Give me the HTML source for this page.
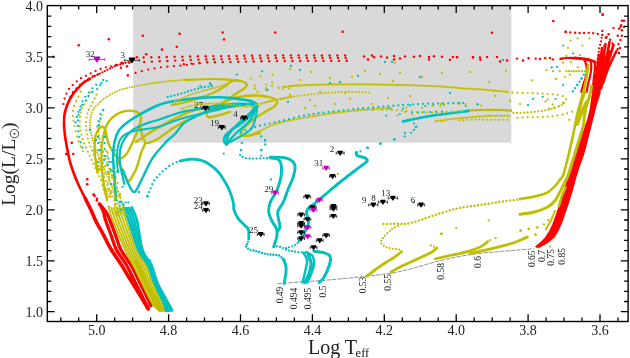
<!DOCTYPE html>
<html><head><meta charset="utf-8"><style>
html,body{margin:0;padding:0;background:#fff;width:630px;height:358px;overflow:hidden}
svg{display:block;font-family:"Liberation Serif",serif;will-change:transform}
</style></head><body>
<svg width="630" height="358" viewBox="0 0 630 358">
<rect x="133.2" y="5.6" width="378.1" height="137.1" fill="#d9d9d9"/>
<clipPath id="ax"><rect x="47.3" y="5.6" width="580.8000000000001" height="315.9"/></clipPath>
<g clip-path="url(#ax)" fill="none" stroke-linecap="round" stroke-linejoin="round">
<path d="M277.8 283.8 C281.5 283.5 291.3 282.7 300.0 282.0 C308.7 281.3 318.9 280.8 330.0 279.8 C341.1 278.8 355.0 277.6 366.7 276.2 C378.4 274.8 387.8 274.1 400.0 271.5 C412.2 268.9 428.1 263.6 440.0 260.7 C451.9 257.8 461.1 256.0 471.7 254.4 C482.3 252.8 493.2 252.1 503.5 251.2 C513.8 250.3 528.7 249.2 533.7 248.8" stroke="#808080" stroke-width="0.9" stroke-dasharray="3.5 2"/>
<path d="M535.0 246.5 L540.0 242.5 L544.5 238.0 L548.5 232.0 L552.0 225.0 L555.0 217.0 L558.0 208.0 L561.5 197.0 L565.0 186.0 L568.5 175.0 L572.0 164.0 L576.0 152.0 L580.0 140.0 L583.5 130.0 L587.0 120.0 L589.5 110.0 L591.0 100.0 L592.0 94.0 L601.0 92.0 L600.0 95.0 L596.5 106.0 L593.5 118.0 L590.5 130.0 L587.5 142.0 L584.0 155.0 L580.0 166.0 L576.5 177.0 L573.0 190.0 L569.0 203.0 L565.5 213.0 L562.5 222.0 L559.0 230.0 L555.0 237.0 L548.0 243.0 L540.0 247.5 L537.0 248.0Z" fill="#ff0000" stroke="none"/>
<path d="M89.7 78.8 C88.7 79.4 85.6 81.0 83.6 82.6 C81.6 84.2 79.6 86.3 77.6 88.6 C75.6 90.9 73.3 93.4 71.6 96.2 C69.8 99.0 68.3 102.2 67.1 105.2 C65.9 108.2 65.1 110.9 64.6 114.0 C64.1 117.1 64.0 120.7 64.0 124.0 C64.0 127.3 64.4 130.5 64.8 134.0 C65.2 137.5 65.6 140.3 66.5 145.0 C67.4 149.7 68.8 157.2 70.1 162.1 C71.4 167.0 72.6 170.2 74.1 174.2 C75.6 178.2 77.3 182.2 79.2 186.2 C81.1 190.2 83.2 194.3 85.2 198.3 C87.2 202.3 89.4 206.5 91.2 210.4 C93.0 214.3 94.3 218.1 96.3 222.0 C98.3 225.9 100.6 229.5 103.0 234.0 C105.4 238.5 107.8 243.8 110.9 249.0 C114.0 254.2 119.0 261.1 121.5 265.0 C124.0 268.9 123.8 268.8 126.0 272.5 C128.2 276.2 132.3 282.7 135.0 287.0 C137.7 291.3 139.8 294.8 142.0 298.5 C144.2 302.2 147.4 307.7 148.5 309.5" stroke="#ff0000" stroke-width="2.6"/>
<path d="M85.2 198.3 C86.2 200.3 89.4 206.5 91.2 210.4 C93.0 214.3 94.3 218.1 96.3 222.0 C98.3 225.9 100.6 229.5 103.0 234.0 C105.4 238.5 107.8 243.8 110.9 249.0 C114.0 254.2 119.0 261.1 121.5 265.0 C124.0 268.9 123.8 268.8 126.0 272.5 C128.2 276.2 132.3 282.7 135.0 287.0 C137.7 291.3 139.8 294.9 142.0 298.5 C144.2 302.1 147.0 306.8 148.0 308.5" stroke="#ff0000" stroke-width="3.6"/>
<path d="M99.5 204.0 C100.2 205.3 102.5 209.3 103.5 212.0 C104.5 214.7 104.2 216.2 105.5 220.0 C106.8 223.8 109.2 230.0 111.0 235.0 C112.8 240.0 113.9 245.0 116.5 250.0 C119.1 255.0 123.4 259.7 126.5 265.0 C129.6 270.3 132.0 276.0 135.0 282.0 C138.0 288.0 142.3 296.8 144.5 301.0 C146.7 305.2 147.4 306.0 148.0 307.0" stroke="#ff0000" stroke-width="3.3"/>
<path d="M99.5 204.0 C100.6 205.3 104.3 209.3 106.0 212.0 C107.7 214.7 108.2 216.2 109.8 220.0 C111.4 223.8 113.6 230.0 115.5 235.0 C117.4 240.0 118.4 245.0 121.0 250.0 C123.6 255.0 127.9 259.7 131.0 265.0 C134.1 270.3 136.6 276.2 139.5 282.0 C142.4 287.8 146.6 296.1 148.5 300.0 C150.4 303.9 150.6 304.6 151.0 305.5" stroke="#ff0000" stroke-width="3.3"/>
<path d="M599.0 55.0 C598.7 57.5 597.7 65.0 597.0 70.0 C596.3 75.0 595.8 80.0 595.0 85.0 C594.2 90.0 592.9 97.5 592.5 100.0" stroke="#ff0000" stroke-width="2.6"/>
<path d="M602.0 48.0 C601.7 50.8 600.8 59.3 600.0 65.0 C599.2 70.7 598.4 76.2 597.5 82.0 C596.6 87.8 595.0 97.0 594.5 100.0" stroke="#ff0000" stroke-width="2.6"/>
<path d="M605.5 44.0 C605.1 46.7 603.9 54.3 603.0 60.0 C602.1 65.7 601.1 72.0 600.0 78.0 C598.9 84.0 597.1 93.0 596.5 96.0" stroke="#ff0000" stroke-width="2.6"/>
<path d="M609.5 42.0 C609.0 44.7 607.6 52.5 606.5 58.0 C605.4 63.5 604.2 69.3 603.0 75.0 C601.8 80.7 599.7 89.2 599.0 92.0" stroke="#ff0000" stroke-width="2.6"/>
<path d="M613.5 45.0 C612.8 47.2 610.8 53.5 609.5 58.0 C608.2 62.5 606.9 67.0 605.5 72.0 C604.1 77.0 601.8 85.3 601.0 88.0" stroke="#ff0000" stroke-width="2.6"/>
<path d="M616.5 51.0 C615.8 52.5 613.5 56.8 612.0 60.0 C610.5 63.2 609.0 66.2 607.5 70.0 C606.0 73.8 603.8 80.8 603.0 83.0" stroke="#ff0000" stroke-width="2.6"/>
<path d="M603.0 56.0 C602.5 59.2 601.2 68.5 600.0 75.0 C598.8 81.5 596.7 91.7 596.0 95.0" stroke="#ff0000" stroke-width="5"/>
<path d="M609.0 52.0 C608.2 55.0 606.0 64.0 604.5 70.0 C603.0 76.0 600.8 85.0 600.0 88.0" stroke="#ff0000" stroke-width="4"/>
<path d="M560.3 58.8 C561.4 58.7 563.7 58.1 566.7 58.0 C569.7 57.9 575.5 57.9 578.4 58.2 C581.3 58.5 582.9 58.4 584.3 60.0 C585.7 61.6 586.3 65.4 586.7 67.6 C587.1 69.8 587.1 71.1 586.7 73.4 C586.3 75.8 585.1 79.2 584.3 81.7 C583.5 84.2 582.5 87.0 582.0 88.7 C581.5 90.4 581.5 91.5 581.4 92.0" stroke="#ff0000" stroke-width="2.2"/>
<path d="M570.0 58.0 C572.6 58.2 582.1 59.0 585.5 59.4 C588.9 59.8 589.2 59.4 590.2 60.6 C591.2 61.8 591.3 63.9 591.3 66.4 C591.3 68.9 590.8 72.7 590.2 75.8 C589.6 78.9 588.4 82.5 587.8 85.2 C587.2 87.9 586.9 90.9 586.7 92.0" stroke="#ff0000" stroke-width="2.2"/>
<path d="M580.0 58.5 C582.3 59.0 591.2 60.2 593.7 61.7 C596.2 63.2 594.9 64.7 594.9 67.6 C594.9 70.5 594.1 75.2 593.7 79.3 C593.3 83.4 592.7 89.9 592.5 92.0" stroke="#ff0000" stroke-width="2.2"/>
<path d="M575.0 57.5 C577.2 57.8 584.5 58.2 588.0 59.0 C591.5 59.8 594.7 61.5 596.0 62.0" stroke="#ff0000" stroke-width="1.8"/>
<path d="M109.0 208.0 C109.6 210.0 109.9 213.0 112.6 220.0 C115.3 227.0 121.8 242.5 125.2 250.0 C128.6 257.5 130.3 259.5 133.1 265.0 C135.9 270.5 139.1 277.0 142.0 283.0 C144.9 289.0 148.4 296.8 150.7 301.0 C153.0 305.2 154.5 306.3 156.0 308.0 C157.5 309.7 158.9 310.5 159.5 311.0" stroke="#bfbf00" stroke-width="1.8"/>
<path d="M111.5 208.0 C112.1 210.0 112.6 213.0 115.2 220.0 C117.9 227.0 124.0 242.5 127.4 250.0 C130.8 257.5 132.8 259.5 135.6 265.0 C138.4 270.5 141.2 277.0 144.1 283.0 C146.9 289.0 150.5 296.8 152.8 301.0 C155.0 305.2 156.3 306.3 157.6 308.0 C158.9 309.7 160.2 310.5 160.7 311.0" stroke="#bfbf00" stroke-width="1.8"/>
<path d="M114.0 208.0 C114.7 210.0 115.3 213.0 117.9 220.0 C120.5 227.0 126.3 242.5 129.6 250.0 C133.0 257.5 135.3 259.5 138.1 265.0 C140.8 270.5 143.4 277.0 146.2 283.0 C149.0 289.0 152.6 296.8 154.8 301.0 C157.0 305.2 158.0 306.3 159.2 308.0 C160.3 309.7 161.4 310.5 161.8 311.0" stroke="#bfbf00" stroke-width="1.8"/>
<path d="M116.5 208.0 C117.2 210.0 118.0 213.0 120.5 220.0 C123.1 227.0 128.5 242.5 131.8 250.0 C135.2 257.5 137.8 259.5 140.6 265.0 C143.3 270.5 145.5 277.0 148.2 283.0 C151.0 289.0 154.8 296.8 156.8 301.0 C158.9 305.2 159.7 306.3 160.8 308.0 C161.8 309.7 162.6 310.5 163.0 311.0" stroke="#bfbf00" stroke-width="1.8"/>
<path d="M119.0 208.0 C119.7 210.0 120.7 213.0 123.2 220.0 C125.7 227.0 130.8 242.5 134.1 250.0 C137.4 257.5 140.3 259.5 143.0 265.0 C145.7 270.5 147.7 277.0 150.3 283.0 C153.0 289.0 156.9 296.8 158.9 301.0 C160.9 305.2 161.5 306.3 162.3 308.0 C163.2 309.7 163.9 310.5 164.2 311.0" stroke="#bfbf00" stroke-width="1.8"/>
<path d="M121.5 208.0 C122.2 210.0 123.4 213.0 125.9 220.0 C128.3 227.0 133.0 242.5 136.3 250.0 C139.6 257.5 142.8 259.5 145.5 265.0 C148.2 270.5 149.8 277.0 152.4 283.0 C155.0 289.0 159.0 296.8 160.9 301.0 C162.9 305.2 163.2 306.3 163.9 308.0 C164.6 309.7 165.1 310.5 165.3 311.0" stroke="#bfbf00" stroke-width="1.8"/>
<path d="M124.0 208.0 C124.8 210.0 126.1 213.0 128.5 220.0 C130.9 227.0 135.2 242.5 138.5 250.0 C141.8 257.5 145.3 259.5 148.0 265.0 C150.7 270.5 152.0 277.0 154.5 283.0 C157.0 289.0 161.2 296.8 163.0 301.0 C164.8 305.2 164.9 306.3 165.5 308.0 C166.1 309.7 166.3 310.5 166.5 311.0" stroke="#bfbf00" stroke-width="1.8"/>
<path d="M136.0 262.0 C137.2 264.3 140.7 271.3 143.0 276.0 C145.3 280.7 147.8 285.8 150.0 290.0 C152.2 294.2 154.1 297.8 156.0 301.0 C157.9 304.2 160.6 308.1 161.5 309.5" stroke="#bfbf00" stroke-width="4"/>
<path d="M172.0 104.9 C173.9 104.5 178.7 103.8 183.4 102.6 C188.1 101.4 194.7 99.8 200.0 98.0 C205.3 96.2 210.8 94.0 215.0 92.0 C219.2 90.0 222.4 87.8 225.2 86.0 C228.0 84.2 229.5 81.8 232.0 81.0 C234.5 80.2 237.7 80.3 240.2 80.9 C242.7 81.5 246.5 83.3 247.0 84.7 C247.5 86.1 245.1 87.7 243.2 89.2 C241.3 90.7 237.9 92.3 235.7 93.8 C233.4 95.3 232.0 96.5 229.7 98.0 C227.4 99.5 224.3 101.6 222.0 103.0 C219.7 104.4 217.7 105.6 216.0 106.5 C214.3 107.4 213.4 107.8 212.0 108.5 C210.6 109.2 208.3 109.6 207.5 110.8 C206.7 112.0 206.6 114.3 206.9 115.4 C207.2 116.5 207.2 117.2 209.2 117.2 C211.1 117.2 215.1 116.3 218.6 115.4 C222.1 114.5 228.1 112.5 230.0 111.9" stroke="#bfbf00" stroke-width="2.4"/>
<path d="M186.0 79.8 C190.0 79.7 203.5 79.1 210.0 79.0 C216.5 78.9 220.2 79.1 225.2 79.4 C230.2 79.7 237.7 80.7 240.2 80.9" stroke="#bfbf00" stroke-width="2.2"/>
<path d="M205.7 110.8 C206.7 110.7 209.4 110.6 211.6 110.2 C213.8 109.8 215.5 109.0 218.6 108.4 C221.7 107.8 225.6 107.4 230.0 106.7 C234.4 106.0 242.5 104.9 245.0 104.5" stroke="#bfbf00" stroke-width="2.2"/>
<path d="M136.0 142.0 C137.8 140.8 143.4 136.8 147.0 134.5 C150.6 132.2 153.7 130.3 157.8 127.9 C161.9 125.5 167.4 122.4 171.7 120.1 C176.0 117.8 179.5 115.9 183.4 114.3 C187.3 112.7 191.7 111.2 195.2 110.2 C198.7 109.2 201.6 109.1 204.5 108.4 C207.4 107.7 209.9 107.0 212.8 106.1 C215.7 105.2 218.7 104.3 222.0 103.0 C225.3 101.7 228.8 99.7 232.6 98.5 C236.4 97.3 241.2 96.5 245.0 96.0 C248.8 95.5 251.0 95.3 255.2 95.5 C259.4 95.7 266.6 96.3 270.3 97.3 C274.0 98.3 276.4 100.1 277.1 101.6 C277.9 103.1 276.4 104.6 274.8 106.1 C273.2 107.6 270.6 108.6 267.3 110.6 C264.0 112.6 258.7 115.7 255.2 118.2 C251.7 120.7 248.6 123.3 246.2 125.7 C243.8 128.1 241.7 130.9 240.9 132.5 C240.2 134.1 240.3 135.0 241.7 135.5 C243.1 136.0 246.1 135.9 249.2 135.5 C252.2 135.1 258.2 133.4 260.0 133.0" stroke="#bfbf00" stroke-width="2.4"/>
<path d="M97.7 172.6 C97.2 169.8 95.4 161.5 94.9 155.9 C94.4 150.3 94.5 143.2 94.9 139.1 C95.3 134.9 96.3 133.1 97.5 131.0 C98.7 128.9 100.7 126.8 101.9 126.5 C103.2 126.2 104.3 127.8 105.0 129.0 C105.7 130.2 105.4 130.9 106.1 133.5 C106.8 136.1 107.3 141.0 108.9 144.7 C110.5 148.4 114.0 153.6 115.9 155.9 C117.8 158.2 118.2 159.2 120.1 158.7 C122.0 158.2 124.8 156.4 127.1 153.1 C129.4 149.8 131.9 143.8 134.0 139.1 C136.1 134.4 138.4 128.8 139.6 125.1 C140.8 121.4 141.2 118.9 141.0 116.8 C140.8 114.7 140.0 113.6 138.2 112.6 C136.3 111.6 132.9 110.6 129.9 110.6 C126.9 110.6 123.1 111.3 120.1 112.6 C117.1 113.9 114.0 115.9 111.7 118.2 C109.4 120.5 107.5 123.2 106.1 126.5 C104.6 129.8 103.8 134.1 103.0 138.0 C102.2 141.9 101.7 144.7 101.5 150.0 C101.3 155.3 101.5 164.2 101.9 170.0 C102.3 175.8 103.2 180.0 104.0 185.0 C104.8 190.0 106.5 197.5 107.0 200.0" stroke="#bfbf00" stroke-width="2.4"/>
<path d="M140.4 128.0 C140.8 129.6 142.0 134.9 142.8 137.4 C143.6 139.9 145.3 140.9 145.1 143.2 C144.9 145.5 142.8 148.1 141.6 151.4 C140.4 154.7 139.1 160.1 138.1 163.2 C137.1 166.3 136.6 167.9 135.7 170.0 C134.8 172.1 133.4 174.2 132.4 176.0 C131.4 177.8 130.4 180.2 129.4 180.7 C128.4 181.2 127.5 180.9 126.4 179.2 C125.3 177.4 124.0 173.2 122.6 170.2 C121.2 167.2 118.8 162.6 118.1 161.1" stroke="#bfbf00" stroke-width="2.4"/>
<path d="M145.1 143.2 C146.1 143.0 148.5 143.1 151.0 142.1 C153.5 141.1 156.6 139.6 160.0 137.4 C163.4 135.2 167.8 131.6 171.7 129.0 C175.6 126.4 179.5 124.1 183.4 122.0 C187.3 119.9 191.9 118.1 195.2 116.6 C198.5 115.1 200.9 113.9 203.4 113.0 C205.9 112.1 208.9 111.3 210.0 111.0" stroke="#bfbf00" stroke-width="2.4"/>
<path d="M97.0 170.0 L96.0 160.0" stroke="#bfbf00" stroke-width="2.2"/>
<path d="M466.0 110.5 C470.0 110.4 482.5 109.9 490.0 109.9 C497.5 109.9 507.5 110.3 511.0 110.4" stroke="#bfbf00" stroke-width="2.2"/>
<path d="M520.0 198.8 C522.2 198.5 528.9 197.8 533.4 196.8 C537.9 195.8 543.2 194.6 546.8 192.8 C550.4 191.0 552.7 188.3 554.9 186.1 C557.1 183.9 558.8 181.2 560.2 179.4 C561.6 177.6 562.3 177.4 563.3 175.0 C564.3 172.6 565.0 168.7 566.0 165.0 C567.0 161.3 568.0 157.2 569.0 153.0 C570.0 148.8 571.0 144.7 572.0 140.0 C573.0 135.3 574.2 129.6 575.1 125.0 C576.0 120.4 576.8 116.1 577.6 112.6 C578.4 109.1 579.3 106.8 580.1 103.8 C580.9 100.8 581.8 97.5 582.6 94.4 C583.4 91.3 584.3 88.2 585.0 85.0 C585.7 81.8 586.5 78.3 587.0 75.0 C587.5 71.7 587.8 66.7 588.0 65.0" stroke="#bfbf00" stroke-width="2.6"/>
<path d="M520.0 214.2 C522.2 213.9 528.9 213.3 533.4 212.2 C537.9 211.1 543.2 209.4 546.8 207.5 C550.4 205.6 552.7 203.5 554.9 200.8 C557.1 198.1 558.4 194.8 560.2 191.4 C562.0 188.1 564.3 183.4 565.6 180.7 C566.9 178.0 567.1 177.9 568.2 175.0 C569.3 172.1 570.7 167.2 572.0 163.0 C573.3 158.8 574.7 154.3 576.0 150.0 C577.3 145.7 578.8 141.2 580.0 137.0 C581.2 132.8 582.8 128.6 583.5 125.0 C584.2 121.4 583.9 118.7 584.5 115.2 C585.1 111.7 586.0 107.4 587.0 103.8 C588.0 100.2 589.5 96.8 590.2 93.8 C591.0 90.8 591.3 87.3 591.5 86.0" stroke="#bfbf00" stroke-width="3.0"/>
<path d="M577.0 124.0 C577.5 122.7 578.8 118.7 580.0 116.0 C581.2 113.3 582.8 110.3 584.0 108.0 C585.2 105.7 586.5 103.0 587.0 102.0" stroke="#bfbf00" stroke-width="4.0"/>
<path d="M576.3 122.7 C576.8 120.9 578.0 115.8 579.0 112.0 C580.0 108.2 581.0 103.3 582.0 100.0 C583.0 96.7 584.5 93.3 585.0 92.0" stroke="#bfbf00" stroke-width="3.0"/>
<path d="M558.9 206.2 C559.4 204.6 560.5 199.9 561.6 196.8 C562.7 193.7 564.9 189.0 565.6 187.4" stroke="#bfbf00" stroke-width="2.4"/>
<path d="M366.6 276.2 C368.0 275.2 371.9 272.2 375.0 270.0 C378.1 267.8 381.7 265.2 385.0 263.0 C388.3 260.8 391.9 258.9 394.7 257.0 C397.4 255.1 400.4 252.6 401.5 251.7" stroke="#bfbf00" stroke-width="2.8"/>
<path d="M391.0 272.0 C392.5 271.2 395.6 269.2 400.0 267.0 C404.4 264.8 413.4 260.8 417.3 259.0 C421.2 257.2 420.8 257.5 423.3 256.3 C425.8 255.1 430.1 253.1 432.4 251.7 C434.7 250.3 436.1 248.6 436.9 248.0" stroke="#bfbf00" stroke-width="2.8"/>
<path d="M435.0 259.0 C437.5 258.4 446.5 256.3 450.0 255.5 C453.5 254.7 452.3 255.2 455.9 254.4 C459.5 253.6 467.5 251.7 471.7 250.4 C475.9 249.1 478.6 247.9 481.3 246.4 C484.0 244.9 486.6 242.5 487.6 241.7" stroke="#bfbf00" stroke-width="2.8"/>
<path d="M470.2 253.6 C473.1 252.9 482.1 250.9 487.6 249.6 C493.2 248.3 499.0 246.8 503.5 245.6 C508.0 244.4 511.4 243.6 514.6 242.5 C517.8 241.4 520.4 240.2 522.5 239.3 C524.6 238.4 526.5 237.3 527.3 236.9" stroke="#bfbf00" stroke-width="2.8"/>
<path d="M124.0 208.0 C124.8 210.0 126.1 213.0 128.5 220.0 C130.9 227.0 135.2 242.5 138.5 250.0 C141.8 257.5 145.3 259.5 148.0 265.0 C150.7 270.5 152.0 277.0 154.5 283.0 C157.0 289.0 161.2 296.8 163.0 301.0 C164.8 305.2 164.9 306.3 165.5 308.0 C166.1 309.7 166.3 310.5 166.5 311.0" stroke="#00bfbf" stroke-width="2.6"/>
<path d="M126.7 208.0 C127.4 210.0 129.1 213.0 131.3 220.0 C133.5 227.0 136.9 242.5 139.8 250.0 C142.8 257.5 146.6 259.5 149.2 265.0 C151.8 270.5 153.0 277.0 155.5 283.0 C158.0 289.0 162.4 296.8 164.3 301.0 C166.3 305.2 166.7 306.4 167.3 308.0 C168.0 309.6 168.2 310.4 168.3 310.8" stroke="#00bfbf" stroke-width="2.6"/>
<path d="M129.3 208.0 C130.1 210.0 132.1 213.0 134.1 220.0 C136.1 227.0 138.5 242.5 141.2 250.0 C143.9 257.5 147.8 259.5 150.3 265.0 C152.9 270.5 153.9 277.0 156.5 283.0 C159.1 289.0 163.6 296.8 165.7 301.0 C167.8 305.2 168.4 306.4 169.2 308.0 C169.9 309.6 170.0 310.2 170.2 310.7" stroke="#00bfbf" stroke-width="2.6"/>
<path d="M132.0 208.0 C132.8 210.0 135.2 213.0 136.9 220.0 C138.7 227.0 140.1 242.5 142.5 250.0 C144.9 257.5 149.0 259.5 151.5 265.0 C154.0 270.5 154.9 277.0 157.5 283.0 C160.1 289.0 164.8 296.8 167.0 301.0 C169.2 305.2 170.2 306.4 171.0 308.0 C171.8 309.6 171.8 310.1 172.0 310.5" stroke="#00bfbf" stroke-width="2.6"/>
<path d="M115.9 200.0 C115.7 196.4 115.0 185.5 114.5 178.2 C114.0 170.8 113.1 161.9 113.1 155.9 C113.1 149.9 113.6 146.1 114.5 141.9 C115.4 137.7 116.6 133.9 118.7 130.7 C120.8 127.4 123.8 125.0 127.1 122.4 C130.3 119.9 134.4 117.6 138.2 115.4 C142.0 113.2 146.4 110.8 150.0 109.0 C153.6 107.2 156.4 105.8 160.0 104.5 C163.6 103.2 165.9 102.5 171.8 101.5 C177.7 100.5 189.3 98.9 195.2 98.2 C201.0 97.5 203.0 97.7 206.9 97.5 C210.8 97.3 214.8 97.2 218.6 97.3 C222.4 97.4 226.4 97.6 230.0 97.9 C233.6 98.2 236.5 98.7 240.2 99.3 C243.9 99.9 249.3 100.6 252.2 101.6 C255.1 102.6 257.0 103.9 257.5 105.3 C258.0 106.7 256.6 108.0 255.2 109.9 C253.8 111.8 251.7 114.2 249.2 116.6 C246.7 119.0 243.2 121.9 240.2 124.2 C237.2 126.5 233.6 128.2 231.1 130.2 C228.6 132.2 226.2 134.2 225.1 136.2 C224.0 138.2 224.0 140.6 224.3 142.0 C224.6 143.4 226.3 144.1 226.7 144.5" stroke="#00bfbf" stroke-width="2.6"/>
<path d="M124.3 183.8 C123.6 180.6 120.8 169.9 120.1 164.3 C119.4 158.7 119.4 154.5 120.1 150.3 C120.8 146.1 122.2 142.5 124.3 139.1 C126.4 135.7 129.2 132.5 132.6 130.0 C136.0 127.5 140.4 125.8 145.0 124.0 C149.6 122.2 154.2 121.2 160.0 119.3 C165.8 117.4 173.3 114.3 180.0 112.5 C186.7 110.7 193.3 110.0 200.0 108.7 C206.7 107.5 213.7 105.9 220.0 105.0 C226.3 104.1 233.0 103.6 238.0 103.5 C243.0 103.4 247.3 103.8 250.0 104.5 C252.7 105.2 254.0 106.1 254.0 107.5 C254.0 108.9 252.3 110.6 250.0 113.0 C247.7 115.4 243.2 119.0 240.0 122.0 C236.8 125.0 233.2 128.3 231.0 131.0 C228.8 133.7 227.7 135.8 227.0 138.0 C226.3 140.2 226.8 143.4 226.7 144.5" stroke="#00bfbf" stroke-width="2.2"/>
<path d="M118.0 172.0 C117.8 170.0 117.0 164.3 117.0 160.0 C117.0 155.7 117.2 149.8 118.0 146.0 C118.8 142.2 119.7 139.4 122.0 137.0 C124.3 134.6 128.0 132.8 132.0 131.5 C136.0 130.2 141.3 129.8 146.0 129.0 C150.7 128.2 154.3 128.2 160.0 126.5 C165.7 124.8 173.3 121.1 180.0 119.0 C186.7 116.9 194.2 115.4 200.0 114.0 C205.8 112.6 210.0 111.7 215.0 110.5 C220.0 109.3 225.5 107.8 230.0 107.0 C234.5 106.2 238.5 106.1 242.0 105.5 C245.5 104.9 248.8 103.2 251.0 103.5 C253.2 103.8 255.3 105.7 255.5 107.0 C255.7 108.3 253.9 109.4 252.0 111.5 C250.1 113.6 247.0 116.8 244.0 119.5 C241.0 122.2 236.7 125.2 234.0 128.0 C231.3 130.8 229.2 133.2 228.0 136.0 C226.8 138.8 226.9 143.1 226.7 144.5" stroke="#00bfbf" stroke-width="2.0"/>
<path d="M127.1 181.0 C128.2 182.9 131.7 192.2 134.0 192.2 C136.3 192.2 138.0 186.6 141.0 181.0 C144.0 175.4 148.0 165.2 152.2 158.7 C156.4 152.2 162.4 146.0 166.2 141.9 C170.0 137.8 172.1 137.0 175.0 134.0 C177.9 131.0 180.0 126.6 183.4 123.7 C186.8 120.8 191.9 118.4 195.2 116.6 C198.5 114.8 200.9 114.3 203.4 113.1 C205.9 111.9 207.9 110.6 210.4 109.6 C212.9 108.6 215.3 108.0 218.6 107.2 C221.9 106.4 225.6 105.4 230.0 104.9 C234.4 104.5 242.5 104.6 245.0 104.5" stroke="#00bfbf" stroke-width="2.4"/>
<path d="M122.9 169.9 L127.1 181.0" stroke="#00bfbf" stroke-width="2.2"/>
<path d="M226.2 144.0 C227.8 142.2 232.9 136.4 236.0 133.3 C239.1 130.2 242.5 127.8 245.0 125.4 C247.5 123.0 249.2 121.5 251.0 119.0 C252.8 116.5 254.5 112.7 255.5 110.5 C256.5 108.3 256.8 106.8 257.0 106.0" stroke="#00bfbf" stroke-width="2.2"/>
<path d="M226.2 144.0 C228.3 142.9 234.9 139.6 239.0 137.2 C243.1 134.8 248.2 132.3 250.9 129.4 C253.6 126.5 254.0 123.2 255.0 120.0 C256.0 116.8 256.7 111.7 257.0 110.0" stroke="#00bfbf" stroke-width="2.0"/>
<path d="M180.0 161.1 C181.5 160.8 186.0 159.6 189.0 159.3 C192.0 159.1 195.3 159.2 198.1 159.6 C200.9 160.0 203.1 160.7 205.6 161.9 C208.1 163.2 210.9 165.2 213.2 167.1 C215.5 169.0 217.2 170.7 219.2 173.2 C221.2 175.7 223.5 179.3 225.2 182.2 C226.9 185.1 228.2 187.3 229.5 190.7 C230.8 194.1 232.6 199.3 233.3 202.5 C234.1 205.7 233.1 207.3 234.0 210.1 C234.9 212.9 236.8 216.6 238.6 219.1 C240.4 221.6 243.0 223.4 244.6 225.2 C246.2 227.0 247.7 227.4 248.4 229.7 C249.1 231.9 248.7 237.2 248.8 238.7" stroke="#00bfbf" stroke-width="2.8"/>
<path d="M283.3 259.0 C283.7 260.1 285.5 263.6 285.9 265.9 C286.3 268.2 286.2 270.0 285.9 272.9 C285.6 275.8 284.4 281.6 284.1 283.4" stroke="#00bfbf" stroke-width="2.9"/>
<path d="M270.2 157.8 C271.5 158.1 276.0 158.4 277.8 159.3 C279.6 160.2 280.2 161.0 280.8 163.1 C281.4 165.2 281.6 169.1 281.5 172.1 C281.4 175.1 280.8 178.2 280.0 181.2 C279.2 184.2 278.1 187.6 277.0 190.2 C275.9 192.8 274.3 194.9 273.2 197.0 C272.1 199.1 270.9 200.1 270.2 202.5 C269.4 204.9 268.4 208.6 268.7 211.6 C268.9 214.6 270.4 217.8 271.7 220.6 C273.0 223.4 275.4 225.7 276.3 228.2 C277.2 230.7 277.2 233.2 277.0 235.7 C276.8 238.2 275.4 241.4 274.8 243.2 C274.2 245.0 273.9 246.1 273.7 246.7" stroke="#00bfbf" stroke-width="2.9"/>
<path d="M270.2 157.1 C272.7 157.2 281.5 157.1 285.3 157.8 C289.1 158.6 291.2 160.0 292.8 161.6 C294.4 163.2 295.1 164.8 295.1 167.6 C295.1 170.4 293.9 174.7 292.8 178.2 C291.7 181.7 289.7 185.2 288.3 188.7 C286.9 192.2 285.6 196.4 284.6 199.0 C283.6 201.6 283.4 201.9 282.3 204.0 C281.2 206.1 278.4 209.1 277.8 211.6 C277.2 214.1 278.1 216.6 278.5 219.1 C278.9 221.6 280.1 224.7 280.0 226.7 C279.9 228.7 278.2 230.4 277.8 231.2" stroke="#00bfbf" stroke-width="2.9"/>
<path d="M308.6 255.5 C309.0 256.9 311.1 261.3 311.2 264.2 C311.3 267.1 310.4 269.8 309.4 272.9 C308.4 275.9 305.8 280.9 305.1 282.5" stroke="#00bfbf" stroke-width="3.4"/>
<path d="M303.3 252.8 C303.9 254.0 306.6 257.1 307.0 260.0 C307.4 262.9 306.2 266.2 305.5 270.0 C304.8 273.8 303.0 280.4 302.5 282.5" stroke="#00bfbf" stroke-width="2.4"/>
<path d="M306.0 252.0 C307.1 252.7 311.2 254.0 312.5 256.0 C313.8 258.0 314.2 261.2 314.0 264.0 C313.8 266.8 312.6 269.9 311.5 273.0 C310.4 276.1 308.2 280.9 307.5 282.5" stroke="#00bfbf" stroke-width="2.4"/>
<path d="M313.8 251.1 C315.6 251.4 321.7 252.1 324.3 252.8 C326.9 253.5 328.5 254.2 329.5 255.5 C330.5 256.8 330.7 258.4 330.4 260.7 C330.1 263.0 329.0 266.5 327.8 269.4 C326.6 272.3 324.8 276.0 323.4 278.2 C321.9 280.4 319.8 281.8 319.1 282.5" stroke="#00bfbf" stroke-width="2.9"/>
<path d="M299.1 241.1 C299.8 240.1 301.9 237.1 303.1 235.1 C304.3 233.1 305.2 231.1 306.1 229.1 C307.0 227.1 308.2 224.7 308.6 223.0 C309.0 221.3 308.6 220.8 308.2 219.0 C307.8 217.2 306.3 213.8 306.4 212.0 C306.5 210.2 307.2 209.5 308.8 207.9 C310.4 206.3 313.5 204.5 315.8 202.6 C318.1 200.7 320.4 198.7 322.8 196.7 C325.2 194.7 327.1 192.9 330.0 190.5 C332.9 188.1 336.0 185.3 340.2 182.0 C344.4 178.7 351.2 173.6 355.2 170.5 C359.2 167.4 362.3 165.2 364.3 163.6 C366.3 161.9 367.3 161.6 367.3 160.6 C367.3 159.6 365.8 158.3 364.3 157.6 C362.8 156.8 359.6 156.7 358.2 156.1 C356.8 155.5 356.2 154.4 356.0 153.8 C355.8 153.2 356.6 152.6 356.7 152.3" stroke="#00bfbf" stroke-width="2.9"/>
<path d="M402.9 121.4 C407.4 120.5 419.1 117.8 430.0 116.0 C440.9 114.2 462.2 111.8 468.6 110.9" stroke="#00bfbf" stroke-width="2.6"/>
<path d="M131.0 61.3 C129.6 61.7 125.4 63.0 122.8 63.8 C120.2 64.6 117.8 65.0 115.3 66.0 C112.8 67.0 110.1 68.5 107.8 69.6 C105.5 70.7 103.7 71.6 101.7 72.6 C99.7 73.6 97.7 74.6 95.7 75.6 C93.7 76.6 90.7 78.3 89.7 78.8" stroke="#ff0000" stroke-width="2.3" stroke-dasharray="0 2.8"/>
<path d="M121.3 63.0 C119.9 63.5 115.2 65.4 113.0 66.0 C110.8 66.6 109.7 66.4 107.8 66.8 C105.9 67.2 103.7 67.9 101.7 68.6 C99.7 69.3 97.7 70.0 95.7 70.9 C93.7 71.8 91.6 73.0 89.7 73.9 C87.8 74.9 86.2 75.7 84.4 76.6 C82.6 77.5 80.7 78.2 79.1 79.3 C77.5 80.4 76.1 82.0 74.6 83.4 C73.1 84.8 71.3 86.1 70.1 87.6 C68.8 89.1 68.0 90.7 67.1 92.4 C66.2 94.1 65.4 95.6 64.8 97.7 C64.2 99.8 63.5 104.0 63.3 105.2" stroke="#ff0000" stroke-width="2.3" stroke-dasharray="0 5.4"/>
<path d="M98.0 74.3 C97.0 74.7 93.7 75.7 91.9 76.6 C90.1 77.5 88.9 78.6 87.4 79.6 C85.9 80.6 84.4 81.5 82.9 82.6 C81.4 83.7 79.7 85.3 78.4 86.4 C77.2 87.5 76.5 88.2 75.4 89.4 C74.3 90.7 72.6 92.3 71.6 93.9 C70.6 95.5 69.7 98.3 69.3 99.2" stroke="#ff0000" stroke-width="2.3" stroke-dasharray="0 5.2"/>
<path d="M135.6 72.9 C137.7 72.4 143.8 70.5 148.0 69.6 C152.2 68.7 156.8 67.9 161.0 67.3 C165.2 66.7 169.0 66.6 173.3 66.2 C177.6 65.8 182.2 65.4 186.7 64.9 C191.1 64.4 196.8 63.6 200.0 63.3 C203.2 62.9 205.0 62.9 206.0 62.8" stroke="#ff0000" stroke-width="2.3" stroke-dasharray="0 6.5"/>
<path d="M565.7 32.0 C567.6 32.1 574.0 32.8 577.1 32.9 C580.2 33.0 582.1 32.9 584.3 32.9 C586.4 32.9 588.1 32.8 590.0 32.9 C591.9 33.0 593.7 33.1 595.7 33.5 C597.8 33.9 600.3 34.3 602.3 35.0 C604.3 35.7 606.4 36.8 607.9 37.8 C609.4 38.8 610.5 40.0 611.4 41.3 C612.3 42.6 613.1 44.8 613.5 45.5" stroke="#ff0000" stroke-width="2.4" stroke-dasharray="0 4.6"/>
<path d="M601.6 37.8 C601.5 38.5 601.3 40.6 601.0 42.0 C600.7 43.4 600.0 44.8 599.6 46.2 C599.2 47.6 599.1 48.9 598.9 50.4 C598.7 51.9 598.4 53.8 598.2 55.3 C598.0 56.8 597.6 58.8 597.5 59.5" stroke="#ff0000" stroke-width="2.2" stroke-dasharray="0 3.6"/>
<path d="M80.6 91.7 C80.1 92.8 78.6 96.3 77.6 98.4 C76.6 100.5 75.3 102.5 74.6 104.5 C73.8 106.5 73.4 108.2 73.1 110.5 C72.8 112.8 72.7 115.1 73.0 118.0 C73.3 120.9 74.2 124.3 75.0 128.0 C75.8 131.7 76.7 136.0 78.0 140.0 C79.3 144.0 82.2 150.0 83.0 152.0" stroke="#bfbf00" stroke-width="2.2" stroke-dasharray="0 5.2"/>
<path d="M90.4 92.4 C89.8 93.7 87.8 97.9 86.7 100.0 C85.6 102.1 84.5 103.6 83.6 105.2 C82.7 106.8 82.0 107.7 81.4 109.8 C80.8 111.9 80.2 115.0 80.0 118.0 C79.8 121.0 79.5 124.3 80.0 128.0 C80.5 131.7 81.7 136.0 83.0 140.0 C84.3 144.0 86.2 147.8 88.0 152.0 C89.8 156.2 92.0 160.7 94.0 165.0 C96.0 169.3 98.0 173.8 100.0 178.0 C102.0 182.2 105.0 188.0 106.0 190.0" stroke="#bfbf00" stroke-width="2.2" stroke-dasharray="0 4.5"/>
<path d="M96.5 94.7 C95.8 96.2 93.4 100.8 92.0 103.7 C90.6 106.6 89.0 109.0 88.0 112.0 C87.0 115.0 86.2 118.2 86.0 122.0 C85.8 125.8 86.2 130.7 87.0 135.0 C87.8 139.3 89.3 143.5 91.0 148.0 C92.7 152.5 95.0 157.5 97.0 162.0 C99.0 166.5 101.0 170.7 103.0 175.0 C105.0 179.3 107.2 183.8 109.0 188.0 C110.8 192.2 112.3 196.0 114.0 200.0 C115.7 204.0 118.2 210.0 119.0 212.0" stroke="#bfbf00" stroke-width="2.2" stroke-dasharray="0 4.2"/>
<path d="M150.0 83.5 C147.3 84.0 138.6 85.7 133.6 86.8 C128.6 87.9 124.5 88.3 120.0 90.0 C115.5 91.7 110.3 94.6 106.8 96.8 C103.3 99.0 101.2 101.0 99.0 103.0 C96.8 105.0 94.7 106.8 93.4 109.0 C92.1 111.2 91.6 113.3 91.0 116.0 C90.4 118.7 89.9 121.8 90.0 125.0 C90.1 128.2 90.7 131.3 91.5 135.0 C92.3 138.7 93.6 142.8 95.0 147.0 C96.4 151.2 98.2 155.7 100.0 160.0 C101.8 164.3 104.0 168.5 106.0 173.0 C108.0 177.5 110.2 182.5 112.0 187.0 C113.8 191.5 115.3 195.8 117.0 200.0 C118.7 204.2 121.2 210.0 122.0 212.0" stroke="#bfbf00" stroke-width="2.0" stroke-dasharray="0 2.6"/>
<path d="M102.0 115.0 C101.5 116.7 99.5 121.3 99.0 125.0 C98.5 128.7 98.5 132.8 99.0 137.0 C99.5 141.2 100.7 145.7 102.0 150.0 C103.3 154.3 105.3 158.7 107.0 163.0 C108.7 167.3 110.3 171.7 112.0 176.0 C113.7 180.3 115.3 184.7 117.0 189.0 C118.7 193.3 120.5 197.7 122.0 202.0 C123.5 206.3 125.3 212.8 126.0 215.0" stroke="#bfbf00" stroke-width="2.2" stroke-dasharray="0 3.5"/>
<path d="M150.0 83.5 C152.5 83.2 160.8 82.1 165.0 81.6 C169.2 81.1 171.8 80.9 175.3 80.6 C178.8 80.3 184.2 79.9 186.0 79.8" stroke="#bfbf00" stroke-width="2.1" stroke-dasharray="0 2.3"/>
<path d="M258.0 104.5 C260.1 103.9 267.0 102.0 270.8 101.1 C274.6 100.2 276.5 100.0 281.0 99.2 C285.5 98.4 291.5 97.0 298.0 96.0 C304.5 95.0 312.2 94.2 320.0 93.5 C327.8 92.8 336.7 92.2 345.0 92.0 C353.3 91.8 365.8 92.4 370.0 92.5" stroke="#bfbf00" stroke-width="2.2" stroke-dasharray="0 3.4"/>
<path d="M283.0 87.0 C285.8 86.8 290.5 86.0 300.0 85.5 C309.5 85.0 323.3 84.4 340.0 84.3 C356.7 84.2 383.3 84.6 400.0 85.0 C416.7 85.4 429.1 85.9 440.0 86.5 C450.9 87.1 458.2 88.0 465.7 88.6 C473.2 89.1 478.0 89.2 485.0 89.8 C492.0 90.3 503.9 91.6 507.7 91.9" stroke="#bfbf00" stroke-width="2.2" stroke-dasharray="0 2.0"/>
<path d="M507.7 91.9 C508.9 92.0 511.4 92.4 515.2 92.6 C519.0 92.8 525.3 92.9 530.3 93.1 C535.3 93.3 540.4 93.4 545.4 93.8 C550.4 94.2 556.6 94.4 560.0 95.3 C563.4 96.2 565.5 97.7 566.0 99.0 C566.5 100.3 564.3 101.8 563.0 103.0 C561.7 104.2 560.5 105.5 558.4 106.4 C556.3 107.3 552.6 107.9 550.4 108.4 C548.2 109.0 545.9 109.5 545.0 109.7" stroke="#bfbf00" stroke-width="2.2" stroke-dasharray="0 5"/>
<path d="M249.0 135.5 C250.8 134.8 255.3 133.0 260.0 131.0 C264.7 129.0 269.4 125.8 277.0 123.5 C284.6 121.2 296.1 119.2 305.7 117.5 C315.2 115.8 324.8 114.2 334.3 113.0 C343.8 111.8 353.4 110.8 362.9 110.0 C372.4 109.2 386.6 108.3 391.4 108.0" stroke="#bfbf00" stroke-width="2.2" stroke-dasharray="0 2.3"/>
<path d="M175.2 101.6 C177.7 100.5 185.3 96.7 190.3 94.8 C195.3 92.9 201.4 91.4 205.4 90.3 C209.4 89.2 210.6 89.1 214.4 88.0 C218.2 86.9 225.9 84.2 228.2 83.5" stroke="#bfbf00" stroke-width="2.2" stroke-dasharray="0 2.8"/>
<path d="M181.3 109.1 C182.8 108.6 186.3 107.0 190.3 106.1 C194.3 105.2 199.6 104.1 205.4 103.8 C211.2 103.5 217.9 103.5 225.0 104.0 C232.1 104.5 241.4 107.0 247.7 106.8 C254.0 106.6 257.8 104.3 262.8 103.1 C267.8 101.8 272.8 100.4 277.8 99.3 C282.8 98.2 290.4 96.8 292.9 96.3" stroke="#bfbf00" stroke-width="2.2" stroke-dasharray="0 2.8"/>
<path d="M382.0 109.6 C385.0 109.8 393.2 110.0 400.0 110.5 C406.8 111.0 415.5 112.2 423.0 112.5 C430.5 112.8 437.8 112.3 445.0 112.0 C452.2 111.7 462.5 111.0 466.0 110.8" stroke="#bfbf00" stroke-width="2.2" stroke-dasharray="0 5"/>
<path d="M435.6 121.2 C438.8 120.8 447.2 119.6 454.6 118.8 C462.0 118.0 473.3 116.9 480.0 116.4 C486.7 115.9 489.8 115.9 495.0 115.8 C500.2 115.7 508.3 115.9 511.0 115.9" stroke="#bfbf00" stroke-width="2.2" stroke-dasharray="0 2.3"/>
<path d="M459.4 120.4 C462.0 120.3 470.1 119.7 475.2 119.6 C480.3 119.5 484.5 119.8 490.0 119.8 C495.5 119.8 505.0 119.8 508.0 119.8" stroke="#bfbf00" stroke-width="2.2" stroke-dasharray="0 4"/>
<path d="M511.0 111.0 C511.6 111.3 510.6 112.8 514.4 113.0 C518.1 113.2 527.7 112.5 533.5 111.9 C539.3 111.3 544.6 110.7 549.4 109.5 C554.1 108.3 559.3 106.4 562.0 104.8 C564.7 103.2 564.9 100.8 565.5 100.0" stroke="#bfbf00" stroke-width="2.2" stroke-dasharray="0 3.5"/>
<path d="M517.6 117.8 C519.5 117.7 525.1 117.2 528.7 117.1 C532.3 117.0 535.8 117.1 539.0 117.0 C542.2 116.9 545.3 116.9 547.8 116.7 C550.3 116.5 551.5 116.2 554.0 115.9 C556.5 115.6 560.8 115.0 562.9 114.6 C565.0 114.2 564.6 114.2 566.8 113.5 C568.9 112.8 574.3 110.9 575.8 110.4" stroke="#bfbf00" stroke-width="2.2" stroke-dasharray="0 5"/>
<path d="M566.4 71.2 C567.8 71.2 571.9 71.2 575.0 71.2 C578.1 71.2 583.5 71.2 585.2 71.2" stroke="#bfbf00" stroke-width="2.2" stroke-dasharray="0 2.6"/>
<path d="M383.4 223.9 C386.0 223.9 395.3 223.8 399.2 223.8 C403.1 223.8 403.2 224.4 406.7 223.8 C410.2 223.2 415.5 221.6 420.3 220.1 C425.1 218.6 430.4 216.4 435.4 214.8 C440.3 213.2 445.9 211.5 450.0 210.3 C454.1 209.2 455.9 208.7 460.1 207.9 C464.3 207.1 470.2 206.3 475.2 205.6 C480.2 204.8 485.2 204.2 490.2 203.4 C495.2 202.7 500.3 201.8 505.3 201.1 C510.3 200.4 515.7 200.0 520.4 199.3 C525.1 198.6 529.0 197.9 533.4 196.8 C537.8 195.7 544.6 193.5 546.8 192.8" stroke="#bfbf00" stroke-width="2.4" stroke-dasharray="0 3.6"/>
<path d="M401.5 251.7 C401.1 251.3 400.7 250.0 399.2 249.5 C397.7 249.0 394.5 249.1 392.4 248.7 C390.3 248.3 388.1 247.9 386.4 247.2 C384.6 246.4 382.8 245.2 381.9 244.2 C381.0 243.2 380.7 242.4 381.1 241.2 C381.5 239.9 382.3 238.7 384.1 236.7 C385.9 234.7 389.4 230.9 391.7 229.1 C394.0 227.3 396.4 227.0 397.7 226.1 C398.9 225.2 398.9 224.2 399.2 223.8" stroke="#bfbf00" stroke-width="2.2" stroke-dasharray="0 3.2"/>
<path d="M436.9 248.0 L429.4 244.5" stroke="#bfbf00" stroke-width="2.2" stroke-dasharray="0 3.2"/>
<path d="M546.0 229.0 C546.5 228.2 548.0 225.8 549.0 224.0 C550.0 222.2 551.0 220.2 552.0 218.0 C553.0 215.8 554.5 212.2 555.0 211.0" stroke="#bfbf00" stroke-width="2.4" stroke-dasharray="0 2.0"/>
<path d="M103.2 80.0 C102.5 81.2 100.2 85.4 99.0 87.1 C97.8 88.8 96.9 89.3 95.7 90.2 C94.5 91.1 93.1 91.5 91.9 92.4 C90.7 93.4 89.5 94.6 88.5 95.9 C87.5 97.2 87.0 98.9 85.9 100.4 C84.8 102.0 83.1 103.6 82.1 105.2 C81.1 106.8 80.7 107.9 80.0 110.0 C79.3 112.1 78.3 115.0 78.0 118.0 C77.7 121.0 77.7 124.3 78.0 128.0 C78.3 131.7 79.0 136.0 80.0 140.0 C81.0 144.0 83.3 150.0 84.0 152.0" stroke="#00bfbf" stroke-width="2.3" stroke-dasharray="0 5.5"/>
<path d="M106.7 81.1 C104.9 81.7 98.0 83.8 95.7 84.9 C93.4 86.0 93.7 86.8 92.7 87.9 C91.7 89.0 90.8 90.3 89.7 91.7 C88.6 93.1 87.0 94.7 85.9 96.2 C84.8 97.7 83.9 98.7 82.9 100.7 C81.9 102.7 80.9 105.7 79.9 108.2 C78.9 110.8 77.8 113.2 77.0 116.0 C76.2 118.8 75.3 123.5 75.0 125.0" stroke="#00bfbf" stroke-width="2.3" stroke-dasharray="0 5.5"/>
<path d="M167.7 97.0 C169.7 96.5 175.5 95.2 179.8 94.0 C184.1 92.8 189.1 91.0 193.3 89.8 C197.5 88.6 201.4 87.6 205.0 87.0 C208.6 86.4 213.3 86.2 215.0 86.0" stroke="#00bfbf" stroke-width="2.3" stroke-dasharray="0 3.5"/>
<path d="M147.6 196.0 C148.5 193.8 151.2 186.2 152.8 183.0 C154.4 179.8 155.6 178.9 157.3 176.9 C159.1 174.9 161.0 172.9 163.3 170.9 C165.6 168.9 168.1 166.5 170.9 164.9 C173.7 163.3 176.7 162.1 179.9 161.1 C183.1 160.1 188.3 159.2 190.0 158.8" stroke="#00bfbf" stroke-width="2.3" stroke-dasharray="0 4.2"/>
<path d="M248.8 238.7 C248.6 239.4 248.1 242.0 247.6 243.2 C247.1 244.4 245.4 244.9 245.7 245.9 C246.0 246.9 247.4 248.4 249.2 249.3 C250.9 250.2 253.6 250.4 256.2 251.1 C258.8 251.8 262.3 253.1 264.9 253.7 C267.5 254.3 269.6 254.3 271.9 254.6 C274.2 254.9 277.0 254.8 278.9 255.5 C280.8 256.2 282.6 258.4 283.3 259.0" stroke="#00bfbf" stroke-width="2.4" stroke-dasharray="0 2.9"/>
<path d="M240.1 154.8 C240.8 155.3 242.1 157.2 244.6 157.8 C247.1 158.4 250.9 158.6 255.2 158.6 C259.5 158.6 267.7 157.9 270.2 157.8" stroke="#00bfbf" stroke-width="2.3" stroke-dasharray="0 3.5"/>
<path d="M273.7 246.7 C274.7 246.7 277.5 246.1 279.8 246.7 C282.1 247.3 285.1 249.4 287.6 250.2 C290.1 251.0 292.0 251.2 294.6 251.6 C297.2 252.0 301.0 252.2 303.3 252.8 C305.6 253.5 307.7 255.1 308.6 255.5" stroke="#00bfbf" stroke-width="2.3" stroke-dasharray="0 3.2"/>
<path d="M286.0 248.2 C287.5 247.7 292.8 246.4 295.0 245.2 C297.2 244.0 298.4 241.8 299.1 241.1" stroke="#00bfbf" stroke-width="2.3" stroke-dasharray="0 3.2"/>
<path d="M583.9 74.8 C582.9 76.3 580.0 81.0 578.0 84.0 C576.0 87.0 572.8 91.4 571.8 92.9" stroke="#00bfbf" stroke-width="2.3" stroke-dasharray="0 4"/>
<path d="M241.1 132.3 C243.4 131.4 250.2 128.5 255.0 127.0 C259.8 125.5 264.9 124.7 270.0 123.5 C275.1 122.3 279.4 121.4 285.4 120.0 C291.3 118.6 299.9 116.4 305.7 115.2 C311.5 114.0 313.8 113.8 320.0 113.0 C326.2 112.2 336.2 111.2 342.9 110.5 C349.6 109.8 352.1 109.2 360.0 108.5 C367.9 107.8 380.0 106.8 390.0 106.0 C400.0 105.2 407.0 104.5 420.0 104.0 C433.0 103.5 460.0 103.2 468.0 103.0" stroke="#00bfbf" stroke-width="2.3" stroke-dasharray="0 5.0"/>
</g>
<g fill="#ff0000"><circle cx="116.5" cy="65.1" r="1.25"/><circle cx="121.0" cy="67.8" r="1.25"/><circle cx="122.5" cy="62.8" r="1.25"/><circle cx="127.0" cy="66.3" r="1.25"/><circle cx="129.3" cy="62.8" r="1.25"/></g>
<g fill="#ff0000"><circle cx="143.6" cy="57.5" r="1.20"/><circle cx="144.2" cy="62.0" r="1.20"/><circle cx="151.3" cy="57.3" r="1.20"/><circle cx="151.9" cy="61.6" r="1.20"/><circle cx="159.1" cy="57.2" r="1.20"/><circle cx="159.7" cy="61.3" r="1.20"/><circle cx="166.8" cy="57.0" r="1.20"/><circle cx="167.4" cy="61.0" r="1.20"/><circle cx="174.6" cy="56.8" r="1.20"/><circle cx="175.2" cy="60.6" r="1.20"/><circle cx="182.3" cy="56.7" r="1.20"/><circle cx="182.9" cy="60.3" r="1.20"/><circle cx="183.9" cy="64.3" r="1.20"/><circle cx="190.1" cy="56.5" r="1.20"/><circle cx="190.7" cy="59.9" r="1.20"/><circle cx="191.7" cy="63.6" r="1.20"/><circle cx="197.8" cy="56.3" r="1.20"/><circle cx="198.4" cy="59.6" r="1.20"/><circle cx="199.4" cy="62.9" r="1.20"/><circle cx="205.6" cy="56.2" r="1.20"/><circle cx="206.2" cy="59.4" r="1.20"/><circle cx="207.2" cy="62.3" r="1.20"/><circle cx="213.3" cy="56.1" r="1.20"/><circle cx="213.9" cy="59.2" r="1.20"/><circle cx="214.9" cy="62.2" r="1.20"/><circle cx="221.1" cy="56.1" r="1.20"/><circle cx="221.7" cy="59.1" r="1.20"/><circle cx="222.7" cy="62.0" r="1.20"/><circle cx="228.8" cy="56.0" r="1.20"/><circle cx="229.4" cy="58.9" r="1.20"/><circle cx="230.4" cy="61.9" r="1.20"/><circle cx="236.6" cy="55.9" r="1.20"/><circle cx="237.2" cy="58.8" r="1.20"/><circle cx="238.2" cy="61.8" r="1.20"/><circle cx="244.3" cy="55.8" r="1.20"/><circle cx="244.9" cy="58.6" r="1.20"/><circle cx="245.9" cy="61.6" r="1.20"/><circle cx="252.1" cy="55.7" r="1.20"/><circle cx="252.7" cy="58.5" r="1.20"/><circle cx="253.7" cy="61.5" r="1.20"/><circle cx="259.9" cy="55.6" r="1.20"/><circle cx="260.5" cy="58.3" r="1.20"/><circle cx="261.5" cy="61.3" r="1.20"/><circle cx="267.6" cy="55.5" r="1.20"/><circle cx="268.2" cy="58.1" r="1.20"/><circle cx="269.2" cy="61.2" r="1.20"/><circle cx="275.4" cy="55.5" r="1.20"/><circle cx="276.0" cy="58.0" r="1.20"/><circle cx="277.0" cy="61.1" r="1.20"/><circle cx="283.1" cy="55.4" r="1.20"/><circle cx="283.7" cy="57.9" r="1.20"/><circle cx="284.7" cy="61.0" r="1.20"/><circle cx="290.9" cy="55.4" r="1.20"/><circle cx="291.5" cy="57.9" r="1.20"/><circle cx="292.5" cy="61.0" r="1.20"/><circle cx="298.6" cy="55.4" r="1.20"/><circle cx="299.2" cy="57.9" r="1.20"/><circle cx="300.2" cy="61.0" r="1.20"/><circle cx="306.4" cy="55.4" r="1.20"/><circle cx="307.0" cy="57.9" r="1.20"/><circle cx="308.0" cy="60.9" r="1.20"/><circle cx="314.1" cy="55.4" r="1.20"/><circle cx="314.7" cy="57.9" r="1.20"/><circle cx="315.7" cy="60.9" r="1.20"/><circle cx="321.9" cy="55.5" r="1.20"/><circle cx="322.5" cy="57.9" r="1.20"/><circle cx="323.5" cy="60.9" r="1.20"/><circle cx="329.6" cy="55.5" r="1.20"/><circle cx="330.2" cy="57.9" r="1.20"/><circle cx="331.2" cy="60.9" r="1.20"/><circle cx="337.4" cy="55.5" r="1.20"/><circle cx="338.0" cy="57.9" r="1.20"/><circle cx="339.0" cy="60.9" r="1.20"/><circle cx="345.1" cy="55.5" r="1.20"/><circle cx="345.7" cy="57.9" r="1.20"/><circle cx="346.7" cy="60.9" r="1.20"/></g>
<g fill="#ff0000"><circle cx="364.0" cy="56.5" r="1.25"/><circle cx="374.0" cy="57.2" r="1.25"/><circle cx="381.0" cy="56.5" r="1.25"/><circle cx="387.0" cy="57.5" r="1.25"/><circle cx="394.0" cy="56.0" r="1.25"/><circle cx="400.0" cy="58.5" r="1.25"/><circle cx="405.0" cy="56.5" r="1.25"/><circle cx="414.0" cy="56.8" r="1.25"/><circle cx="420.0" cy="56.0" r="1.25"/><circle cx="429.0" cy="57.0" r="1.25"/><circle cx="434.0" cy="56.3" r="1.25"/><circle cx="442.0" cy="56.8" r="1.25"/><circle cx="450.0" cy="59.7" r="1.25"/><circle cx="457.0" cy="57.3" r="1.25"/><circle cx="473.0" cy="57.5" r="1.25"/><circle cx="480.4" cy="59.7" r="1.25"/><circle cx="368.0" cy="59.5" r="1.25"/><circle cx="394.0" cy="59.5" r="1.25"/><circle cx="429.0" cy="59.5" r="1.25"/><circle cx="372.0" cy="55.5" r="1.25"/><circle cx="500.0" cy="61.5" r="1.25"/><circle cx="507.0" cy="60.5" r="1.25"/><circle cx="523.0" cy="60.5" r="1.25"/><circle cx="540.0" cy="59.0" r="1.25"/><circle cx="545.0" cy="58.0" r="1.25"/></g>
<g fill="#ff0000"><circle cx="53.5" cy="56.8" r="1.30"/><circle cx="78.8" cy="45.3" r="1.30"/><circle cx="108.8" cy="39.3" r="1.30"/><circle cx="142.8" cy="35.8" r="1.30"/><circle cx="146.2" cy="54.3" r="1.30"/><circle cx="179.6" cy="33.7" r="1.30"/><circle cx="222.7" cy="32.5" r="1.30"/><circle cx="224.0" cy="39.5" r="1.30"/><circle cx="176.8" cy="46.7" r="1.30"/><circle cx="162.0" cy="49.6" r="1.30"/><circle cx="127.8" cy="75.4" r="1.30"/><circle cx="275.2" cy="32.5" r="1.30"/><circle cx="342.7" cy="31.7" r="1.30"/><circle cx="553.3" cy="21.1" r="1.30"/><circle cx="602.9" cy="14.7" r="1.30"/><circle cx="565.7" cy="31.7" r="1.30"/><circle cx="71.8" cy="142.8" r="1.30"/><circle cx="66.2" cy="154.0" r="1.30"/><circle cx="73.2" cy="154.0" r="1.30"/><circle cx="87.2" cy="179.2" r="1.30"/><circle cx="87.2" cy="184.2" r="1.30"/><circle cx="93.6" cy="194.5" r="1.30"/><circle cx="97.0" cy="198.7" r="1.30"/><circle cx="94.5" cy="196.0" r="1.30"/><circle cx="96.8" cy="200.6" r="1.30"/><circle cx="136.9" cy="57.3" r="1.30"/><circle cx="492.0" cy="32.7" r="1.30"/></g>
<g fill="#ff0000"><circle cx="621.9" cy="20.7" r="1.20"/><circle cx="624.0" cy="20.7" r="1.20"/><circle cx="621.2" cy="25.3" r="1.20"/><circle cx="620.5" cy="26.7" r="1.20"/><circle cx="619.1" cy="28.8" r="1.20"/><circle cx="621.9" cy="30.2" r="1.20"/><circle cx="613.5" cy="28.1" r="1.20"/><circle cx="617.7" cy="35.7" r="1.20"/><circle cx="621.9" cy="35.7" r="1.20"/><circle cx="620.5" cy="39.9" r="1.20"/><circle cx="618.4" cy="44.1" r="1.20"/><circle cx="617.7" cy="49.0" r="1.20"/><circle cx="602.3" cy="14.5" r="1.20"/><circle cx="602.3" cy="30.9" r="1.20"/><circle cx="608.6" cy="34.3" r="1.20"/><circle cx="604.4" cy="46.2" r="1.20"/><circle cx="605.8" cy="37.8" r="1.20"/><circle cx="620.0" cy="48.0" r="1.20"/><circle cx="619.0" cy="53.0" r="1.20"/><circle cx="624.0" cy="27.0" r="1.20"/></g>
<g fill="#ff0000"><circle cx="452.9" cy="57.0" r="1.20"/><circle cx="457.1" cy="57.0" r="1.20"/><circle cx="472.9" cy="57.0" r="1.20"/><circle cx="480.0" cy="57.5" r="1.20"/><circle cx="487.1" cy="57.0" r="1.20"/><circle cx="497.1" cy="57.0" r="1.20"/><circle cx="517.1" cy="58.6" r="1.20"/><circle cx="528.6" cy="58.3" r="1.20"/><circle cx="535.7" cy="58.6" r="1.20"/><circle cx="550.0" cy="58.0" r="1.20"/><circle cx="552.9" cy="59.4" r="1.20"/><circle cx="561.4" cy="58.6" r="1.20"/></g>
<g fill="#bfbf00"><circle cx="250.8" cy="78.7" r="1.15"/><circle cx="260.6" cy="76.4" r="1.15"/><circle cx="272.6" cy="74.9" r="1.15"/><circle cx="254.5" cy="85.5" r="1.15"/><circle cx="255.3" cy="88.5" r="1.15"/><circle cx="266.2" cy="84.7" r="1.15"/><circle cx="272.2" cy="82.4" r="1.15"/><circle cx="278.4" cy="87.7" r="1.15"/><circle cx="257.6" cy="92.2" r="1.15"/><circle cx="265.9" cy="90.0" r="1.15"/><circle cx="290.0" cy="69.0" r="1.15"/><circle cx="300.0" cy="80.0" r="1.15"/><circle cx="311.0" cy="72.0" r="1.15"/><circle cx="330.0" cy="78.0" r="1.15"/><circle cx="352.0" cy="77.0" r="1.15"/><circle cx="365.0" cy="71.0" r="1.15"/><circle cx="380.0" cy="74.0" r="1.15"/><circle cx="393.0" cy="81.0" r="1.15"/><circle cx="395.0" cy="63.0" r="1.15"/><circle cx="400.0" cy="73.0" r="1.15"/><circle cx="422.0" cy="77.0" r="1.15"/><circle cx="442.0" cy="73.0" r="1.15"/><circle cx="470.0" cy="72.0" r="1.15"/><circle cx="489.0" cy="82.0" r="1.15"/><circle cx="506.0" cy="71.0" r="1.15"/><circle cx="510.0" cy="100.6" r="1.15"/><circle cx="481.0" cy="105.6" r="1.15"/><circle cx="531.8" cy="80.3" r="1.15"/><circle cx="555.9" cy="78.8" r="1.15"/><circle cx="545.4" cy="101.4" r="1.15"/><circle cx="547.6" cy="99.4" r="1.15"/><circle cx="552.6" cy="104.4" r="1.15"/><circle cx="546.3" cy="58.7" r="1.15"/><circle cx="566.4" cy="56.0" r="1.15"/><circle cx="579.9" cy="55.1" r="1.15"/><circle cx="563.1" cy="62.7" r="1.15"/><circle cx="571.1" cy="62.3" r="1.15"/><circle cx="577.8" cy="67.4" r="1.15"/><circle cx="546.3" cy="70.1" r="1.15"/><circle cx="553.0" cy="71.2" r="1.15"/><circle cx="559.7" cy="71.2" r="1.15"/><circle cx="569.8" cy="74.8" r="1.15"/><circle cx="555.7" cy="78.8" r="1.15"/><circle cx="565.1" cy="76.8" r="1.15"/><circle cx="310.0" cy="100.0" r="1.15"/><circle cx="335.0" cy="104.0" r="1.15"/><circle cx="350.0" cy="99.0" r="1.15"/><circle cx="372.0" cy="104.0" r="1.15"/><circle cx="388.0" cy="98.0" r="1.15"/><circle cx="410.0" cy="96.0" r="1.15"/><circle cx="441.0" cy="104.0" r="1.15"/><circle cx="495.0" cy="96.0" r="1.15"/><circle cx="520.0" cy="104.0" r="1.15"/><circle cx="320.0" cy="92.0" r="1.15"/><circle cx="345.0" cy="93.0" r="1.15"/><circle cx="290.0" cy="95.0" r="1.15"/><circle cx="305.0" cy="108.0" r="1.15"/><circle cx="315.0" cy="106.0" r="1.15"/><circle cx="373.0" cy="110.0" r="1.15"/><circle cx="405.0" cy="112.0" r="1.15"/><circle cx="442.0" cy="121.4" r="1.15"/><circle cx="456.3" cy="228.2" r="1.15"/><circle cx="441.4" cy="234.0" r="1.15"/><circle cx="441.6" cy="233.7" r="1.15"/><circle cx="488.7" cy="220.4" r="1.15"/><circle cx="520.4" cy="230.5" r="1.15"/><circle cx="528.7" cy="229.0" r="1.15"/><circle cx="521.0" cy="230.6" r="1.15"/><circle cx="528.9" cy="229.0" r="1.15"/><circle cx="536.8" cy="227.4" r="1.15"/><circle cx="535.2" cy="234.5" r="1.15"/><circle cx="490.0" cy="240.1" r="1.15"/><circle cx="495.6" cy="238.0" r="1.15"/><circle cx="528.8" cy="228.9" r="1.15"/><circle cx="537.6" cy="227.4" r="1.15"/><circle cx="543.9" cy="224.5" r="1.15"/><circle cx="548.3" cy="220.1" r="1.15"/><circle cx="535.7" cy="234.9" r="1.15"/><circle cx="527.5" cy="237.4" r="1.15"/><circle cx="522.5" cy="238.9" r="1.15"/><circle cx="520.6" cy="230.8" r="1.15"/><circle cx="550.2" cy="246.5" r="1.15"/><circle cx="441.4" cy="234.0" r="1.15"/><circle cx="337.9" cy="173.9" r="1.15"/></g>
<g fill="#00bfbf"><circle cx="389.5" cy="108.5" r="1.10"/><circle cx="403.0" cy="108.5" r="1.10"/><circle cx="410.2" cy="105.3" r="1.10"/><circle cx="425.2" cy="106.1" r="1.10"/><circle cx="433.2" cy="105.3" r="1.10"/><circle cx="443.5" cy="104.5" r="1.10"/><circle cx="459.4" cy="102.9" r="1.10"/><circle cx="465.7" cy="106.1" r="1.10"/><circle cx="477.6" cy="104.5" r="1.10"/><circle cx="386.3" cy="115.6" r="1.10"/><circle cx="399.8" cy="114.0" r="1.10"/><circle cx="414.1" cy="123.6" r="1.10"/><circle cx="416.5" cy="126.7" r="1.10"/><circle cx="414.1" cy="129.9" r="1.10"/><circle cx="411.0" cy="132.8" r="1.10"/><circle cx="412.0" cy="112.5" r="1.10"/><circle cx="418.0" cy="112.5" r="1.10"/><circle cx="424.0" cy="112.0" r="1.10"/><circle cx="430.0" cy="112.0" r="1.10"/><circle cx="436.0" cy="111.8" r="1.10"/><circle cx="442.0" cy="111.5" r="1.10"/></g>
<g fill="#bfbf00"><circle cx="382.4" cy="109.6" r="1.10"/><circle cx="391.1" cy="109.0" r="1.10"/><circle cx="406.2" cy="107.4" r="1.10"/><circle cx="397.5" cy="115.6" r="1.10"/><circle cx="412.5" cy="114.8" r="1.10"/><circle cx="422.1" cy="107.7" r="1.10"/><circle cx="432.4" cy="105.8" r="1.10"/><circle cx="440.3" cy="106.4" r="1.10"/><circle cx="444.3" cy="104.8" r="1.10"/><circle cx="459.4" cy="104.2" r="1.10"/><circle cx="465.7" cy="104.2" r="1.10"/><circle cx="569.2" cy="119.8" r="1.10"/></g>
<g fill="#00bfbf"><circle cx="150.0" cy="260.4" r="1.20"/><circle cx="152.2" cy="268.6" r="1.20"/><circle cx="147.3" cy="196.3" r="1.20"/><circle cx="139.0" cy="192.0" r="1.20"/></g>
<g fill="#00bfbf"><circle cx="103.2" cy="109.8" r="1.15"/><circle cx="90.0" cy="130.0" r="1.15"/><circle cx="96.0" cy="140.0" r="1.15"/><circle cx="100.0" cy="150.0" r="1.15"/><circle cx="104.0" cy="160.0" r="1.15"/><circle cx="108.0" cy="172.0" r="1.15"/><circle cx="111.0" cy="184.0" r="1.15"/></g>
<g fill="#00bfbf"><circle cx="98.2" cy="136.8" r="1.10"/><circle cx="98.2" cy="143.2" r="1.10"/><circle cx="98.2" cy="150.3" r="1.10"/><circle cx="98.2" cy="162.0" r="1.10"/><circle cx="104.7" cy="136.8" r="1.10"/><circle cx="104.7" cy="143.2" r="1.10"/><circle cx="104.7" cy="149.1" r="1.10"/><circle cx="105.2" cy="156.1" r="1.10"/><circle cx="103.2" cy="110.3" r="1.10"/><circle cx="100.3" cy="113.8" r="1.10"/><circle cx="100.3" cy="118.8" r="1.10"/><circle cx="98.5" cy="121.1" r="1.10"/><circle cx="99.1" cy="125.2" r="1.10"/><circle cx="97.3" cy="126.4" r="1.10"/><circle cx="105.0" cy="136.9" r="1.10"/><circle cx="97.9" cy="136.9" r="1.10"/></g>
<g fill="#00bfbf"><circle cx="240.8" cy="150.3" r="1.15"/><circle cx="261.2" cy="150.3" r="1.15"/><circle cx="271.0" cy="179.4" r="1.15"/><circle cx="261.2" cy="155.6" r="1.15"/><circle cx="223.7" cy="153.6" r="1.15"/><circle cx="241.8" cy="143.0" r="1.15"/><circle cx="241.1" cy="149.8" r="1.15"/><circle cx="265.2" cy="144.5" r="1.15"/><circle cx="265.2" cy="140.8" r="1.15"/><circle cx="261.4" cy="149.8" r="1.15"/></g>
<g fill="#00bfbf"><circle cx="360.5" cy="151.3" r="1.15"/><circle cx="368.0" cy="147.8" r="1.15"/><circle cx="380.9" cy="143.7" r="1.15"/><circle cx="394.4" cy="139.5" r="1.15"/><circle cx="404.6" cy="136.4" r="1.15"/><circle cx="415.7" cy="127.1" r="1.15"/><circle cx="394.3" cy="139.4" r="1.15"/><circle cx="380.0" cy="143.7" r="1.15"/><circle cx="367.0" cy="147.7" r="1.15"/><circle cx="405.0" cy="133.0" r="1.15"/><circle cx="413.6" cy="202.4" r="1.15"/></g>
<g fill="#00bfbf"><circle cx="477.5" cy="104.1" r="1.15"/><circle cx="533.0" cy="98.8" r="1.15"/><circle cx="528.0" cy="105.1" r="1.15"/><circle cx="542.7" cy="96.8" r="1.15"/><circle cx="555.6" cy="98.8" r="1.15"/><circle cx="573.2" cy="53.4" r="1.15"/><circle cx="551.7" cy="67.4" r="1.15"/><circle cx="557.1" cy="66.8" r="1.15"/><circle cx="563.1" cy="85.1" r="1.15"/><circle cx="577.2" cy="84.9" r="1.15"/><circle cx="581.2" cy="78.8" r="1.15"/><circle cx="236.9" cy="74.6" r="1.15"/><circle cx="262.1" cy="71.4" r="1.15"/><circle cx="200.3" cy="86.2" r="1.15"/><circle cx="210.1" cy="83.5" r="1.15"/><circle cx="210.8" cy="84.7" r="1.15"/><circle cx="267.4" cy="90.0" r="1.15"/><circle cx="300.0" cy="70.0" r="1.15"/><circle cx="330.0" cy="83.0" r="1.15"/><circle cx="358.0" cy="76.0" r="1.15"/><circle cx="385.0" cy="62.0" r="1.15"/><circle cx="392.0" cy="62.0" r="1.15"/><circle cx="420.0" cy="77.0" r="1.15"/><circle cx="450.0" cy="93.0" r="1.15"/><circle cx="291.0" cy="66.0" r="1.15"/><circle cx="503.0" cy="60.0" r="1.15"/><circle cx="340.0" cy="82.0" r="1.15"/><circle cx="288.0" cy="102.0" r="1.15"/></g>
<g fill="#00bfbf"><circle cx="261.3" cy="136.5" r="1.15"/><circle cx="265.0" cy="140.0" r="1.15"/></g>
<g fill="#bfbf00"><circle cx="105.8" cy="165.5" r="1.10"/><circle cx="109.0" cy="174.0" r="1.10"/><circle cx="104.7" cy="190.7" r="1.10"/><circle cx="106.6" cy="150.9" r="1.10"/><circle cx="101.2" cy="166.9" r="1.10"/><circle cx="117.5" cy="214.7" r="1.10"/><circle cx="114.8" cy="204.4" r="1.10"/><circle cx="106.3" cy="191.5" r="1.10"/><circle cx="117.7" cy="191.3" r="1.10"/><circle cx="113.8" cy="184.0" r="1.10"/><circle cx="105.4" cy="193.6" r="1.10"/><circle cx="115.3" cy="199.3" r="1.10"/><circle cx="98.6" cy="169.6" r="1.10"/><circle cx="115.3" cy="206.3" r="1.10"/><circle cx="119.3" cy="196.7" r="1.10"/><circle cx="119.9" cy="196.4" r="1.10"/><circle cx="112.5" cy="175.7" r="1.10"/><circle cx="115.5" cy="178.9" r="1.10"/><circle cx="109.5" cy="207.1" r="1.10"/><circle cx="98.8" cy="158.8" r="1.10"/><circle cx="116.4" cy="212.8" r="1.10"/><circle cx="108.5" cy="190.7" r="1.10"/><circle cx="107.8" cy="183.0" r="1.10"/><circle cx="108.3" cy="172.8" r="1.10"/><circle cx="117.4" cy="188.0" r="1.10"/><circle cx="119.5" cy="194.3" r="1.10"/><circle cx="123.4" cy="205.7" r="1.10"/><circle cx="107.0" cy="193.6" r="1.10"/><circle cx="123.1" cy="205.9" r="1.10"/><circle cx="117.5" cy="208.8" r="1.10"/><circle cx="108.5" cy="196.4" r="1.10"/><circle cx="116.3" cy="204.1" r="1.10"/><circle cx="98.9" cy="168.5" r="1.10"/><circle cx="123.4" cy="205.5" r="1.10"/><circle cx="107.3" cy="155.8" r="1.10"/><circle cx="102.4" cy="176.7" r="1.10"/><circle cx="110.3" cy="169.1" r="1.10"/><circle cx="108.5" cy="206.7" r="1.10"/><circle cx="104.2" cy="189.9" r="1.10"/><circle cx="110.5" cy="196.7" r="1.10"/><circle cx="123.7" cy="207.3" r="1.10"/><circle cx="117.6" cy="182.9" r="1.10"/><circle cx="99.5" cy="170.1" r="1.10"/><circle cx="103.7" cy="189.0" r="1.10"/><circle cx="102.9" cy="162.8" r="1.10"/><circle cx="105.9" cy="189.7" r="1.10"/><circle cx="107.6" cy="152.8" r="1.10"/><circle cx="113.7" cy="170.4" r="1.10"/><circle cx="114.3" cy="208.3" r="1.10"/><circle cx="109.1" cy="179.9" r="1.10"/><circle cx="113.5" cy="191.9" r="1.10"/><circle cx="112.4" cy="186.4" r="1.10"/><circle cx="117.1" cy="211.1" r="1.10"/><circle cx="111.9" cy="178.0" r="1.10"/><circle cx="101.9" cy="165.4" r="1.10"/><circle cx="118.0" cy="213.6" r="1.10"/><circle cx="102.5" cy="185.6" r="1.10"/><circle cx="109.3" cy="177.0" r="1.10"/><circle cx="103.2" cy="151.3" r="1.10"/><circle cx="104.7" cy="191.1" r="1.10"/><circle cx="111.1" cy="190.8" r="1.10"/><circle cx="110.2" cy="194.2" r="1.10"/><circle cx="116.8" cy="196.0" r="1.10"/><circle cx="94.3" cy="151.4" r="1.10"/><circle cx="119.9" cy="193.9" r="1.10"/><circle cx="104.6" cy="166.3" r="1.10"/><circle cx="108.2" cy="188.5" r="1.10"/><circle cx="104.2" cy="173.7" r="1.10"/><circle cx="108.8" cy="174.0" r="1.10"/><circle cx="104.1" cy="169.5" r="1.10"/></g>
<g fill="#00bfbf"><circle cx="116.3" cy="200.2" r="1.10"/><circle cx="122.5" cy="187.0" r="1.10"/><circle cx="110.7" cy="170.2" r="1.10"/><circle cx="119.8" cy="202.2" r="1.10"/><circle cx="111.5" cy="162.2" r="1.10"/><circle cx="116.0" cy="195.4" r="1.10"/><circle cx="112.5" cy="170.9" r="1.10"/><circle cx="123.1" cy="204.2" r="1.10"/><circle cx="119.8" cy="205.6" r="1.10"/><circle cx="117.2" cy="171.9" r="1.10"/><circle cx="124.2" cy="207.5" r="1.10"/><circle cx="107.7" cy="164.6" r="1.10"/><circle cx="114.2" cy="184.4" r="1.10"/><circle cx="128.3" cy="202.4" r="1.10"/><circle cx="109.2" cy="161.9" r="1.10"/><circle cx="125.5" cy="202.5" r="1.10"/><circle cx="121.3" cy="202.4" r="1.10"/><circle cx="108.4" cy="158.4" r="1.10"/><circle cx="120.1" cy="201.6" r="1.10"/><circle cx="114.1" cy="172.5" r="1.10"/><circle cx="115.3" cy="177.3" r="1.10"/><circle cx="120.8" cy="209.8" r="1.10"/><circle cx="115.3" cy="150.3" r="1.10"/><circle cx="131.7" cy="207.2" r="1.10"/><circle cx="123.1" cy="178.2" r="1.10"/></g>
<g fill="#bfbf00"><circle cx="570.5" cy="40.7" r="1.10"/><circle cx="577.6" cy="38.3" r="1.10"/><circle cx="589.5" cy="38.3" r="1.10"/><circle cx="568.0" cy="47.9" r="1.10"/><circle cx="582.4" cy="45.5" r="1.10"/></g>
<g fill="#00bfbf"><circle cx="563.3" cy="45.5" r="1.10"/></g>
<g fill="#bfbf00"><circle cx="278.4" cy="87.8" r="1.10"/><circle cx="282.9" cy="89.0" r="1.10"/><circle cx="289.2" cy="88.4" r="1.10"/><circle cx="291.1" cy="85.9" r="1.10"/><circle cx="296.8" cy="85.2" r="1.10"/><circle cx="266.0" cy="88.0" r="1.10"/><circle cx="272.0" cy="86.0" r="1.10"/></g>
<path d="M89.2 59.5h15.6M89.2 58.0v3M104.8 58.0v3" stroke="#bf00bf" stroke-width="0.7" fill="none"/>
<path d="M94.2 57.3h5.5l-2.8 4.4z" fill="#bf00bf" stroke="#bf00bf" stroke-width="1.4" stroke-linejoin="round"/>
<text x="90.3" y="57.2" font-size="9" text-anchor="middle" fill="#222">32</text>
<path d="M124.7 60.3h14.6M124.7 58.8v3M139.3 58.8v3" stroke="#000000" stroke-width="0.7" fill="none"/>
<path d="M129.4 58.3h5.1l-2.5 4.1z" fill="#000000" stroke="#000000" stroke-width="1.4" stroke-linejoin="round"/>
<text x="122.8" y="57.8" font-size="9" text-anchor="middle" fill="#222">3</text>
<path d="M202.0 108.4h6.8M202.0 106.9v3M208.8 106.9v3" stroke="#000000" stroke-width="0.7" fill="none"/>
<path d="M203.1 106.5h4.7l-2.3 3.7z" fill="#000000" stroke="#000000" stroke-width="1.4" stroke-linejoin="round"/>
<text x="198.6" y="107.5" font-size="9" text-anchor="middle" fill="#222">27</text>
<path d="M218.4 127.5h6.8M218.4 126.0v3M225.2 126.0v3" stroke="#000000" stroke-width="0.7" fill="none"/>
<path d="M219.5 125.6h4.7l-2.3 3.7z" fill="#000000" stroke="#000000" stroke-width="1.4" stroke-linejoin="round"/>
<text x="214.5" y="125.8" font-size="9" text-anchor="middle" fill="#222">19</text>
<path d="M240.5 118.2h6.8M240.5 116.7v3M247.3 116.7v3" stroke="#000000" stroke-width="0.7" fill="none"/>
<path d="M241.6 116.3h4.7l-2.3 3.7z" fill="#000000" stroke="#000000" stroke-width="1.4" stroke-linejoin="round"/>
<text x="235.6" y="116.8" font-size="9" text-anchor="middle" fill="#222">4</text>
<path d="M336.2 153.1h8.0M336.2 151.6v3M344.2 151.6v3" stroke="#000000" stroke-width="0.7" fill="none"/>
<path d="M338.1 151.4h4.2l-2.1 3.4z" fill="#000000" stroke="#000000" stroke-width="1.4" stroke-linejoin="round"/>
<text x="331.9" y="152.0" font-size="9" text-anchor="middle" fill="#222">2</text>
<path d="M322.7 168.2h6.8M322.7 166.7v3M329.5 166.7v3" stroke="#bf00bf" stroke-width="0.7" fill="none"/>
<path d="M324.0 166.5h4.2l-2.1 3.4z" fill="#bf00bf" stroke="#bf00bf" stroke-width="1.4" stroke-linejoin="round"/>
<text x="318.7" y="166.0" font-size="9" text-anchor="middle" fill="#222">31</text>
<path d="M329.6 176.4h6.0M329.6 174.9v3M335.6 174.9v3" stroke="#000000" stroke-width="0.7" fill="none"/>
<path d="M330.5 174.7h4.2l-2.1 3.4z" fill="#000000" stroke="#000000" stroke-width="1.4" stroke-linejoin="round"/>
<path d="M202.6 203.7h6.8M202.6 202.2v3M209.4 202.2v3" stroke="#000000" stroke-width="0.7" fill="none"/>
<path d="M203.9 202.0h4.2l-2.1 3.4z" fill="#000000" stroke="#000000" stroke-width="1.4" stroke-linejoin="round"/>
<text x="198.3" y="203.0" font-size="9" text-anchor="middle" fill="#222">23</text>
<path d="M202.6 210.4h6.8M202.6 208.9v3M209.4 208.9v3" stroke="#000000" stroke-width="0.7" fill="none"/>
<path d="M203.9 208.7h4.2l-2.1 3.4z" fill="#000000" stroke="#000000" stroke-width="1.4" stroke-linejoin="round"/>
<text x="198.3" y="209.0" font-size="9" text-anchor="middle" fill="#222">24</text>
<path d="M271.7 192.9h6.8M271.7 191.4v3M278.5 191.4v3" stroke="#bf00bf" stroke-width="0.7" fill="none"/>
<path d="M273.0 191.2h4.2l-2.1 3.4z" fill="#bf00bf" stroke="#bf00bf" stroke-width="1.4" stroke-linejoin="round"/>
<text x="268.7" y="191.5" font-size="9" text-anchor="middle" fill="#222">29</text>
<path d="M257.3 234.5h6.8M257.3 233.0v3M264.1 233.0v3" stroke="#000000" stroke-width="0.7" fill="none"/>
<path d="M258.6 232.8h4.2l-2.1 3.4z" fill="#000000" stroke="#000000" stroke-width="1.4" stroke-linejoin="round"/>
<text x="253.6" y="233.0" font-size="9" text-anchor="middle" fill="#222">25</text>
<path d="M368.7 205.0h9.2M368.7 203.5v3M377.9 203.5v3" stroke="#000000" stroke-width="0.7" fill="none"/>
<path d="M371.2 203.3h4.2l-2.1 3.4z" fill="#000000" stroke="#000000" stroke-width="1.4" stroke-linejoin="round"/>
<text x="364.3" y="203.2" font-size="9" text-anchor="middle" fill="#222">9</text>
<path d="M378.3 202.1h9.2M378.3 200.6v3M387.5 200.6v3" stroke="#000000" stroke-width="0.7" fill="none"/>
<path d="M380.8 200.4h4.2l-2.1 3.4z" fill="#000000" stroke="#000000" stroke-width="1.4" stroke-linejoin="round"/>
<text x="373.6" y="201.3" font-size="9" text-anchor="middle" fill="#222">8</text>
<path d="M388.3 198.1h9.2M388.3 196.6v3M397.5 196.6v3" stroke="#000000" stroke-width="0.7" fill="none"/>
<path d="M390.8 196.4h4.2l-2.1 3.4z" fill="#000000" stroke="#000000" stroke-width="1.4" stroke-linejoin="round"/>
<text x="385.7" y="196.1" font-size="9" text-anchor="middle" fill="#222">13</text>
<path d="M417.6 205.0h6.8M417.6 203.5v3M424.4 203.5v3" stroke="#000000" stroke-width="0.7" fill="none"/>
<path d="M418.9 203.3h4.2l-2.1 3.4z" fill="#000000" stroke="#000000" stroke-width="1.4" stroke-linejoin="round"/>
<text x="412.9" y="203.2" font-size="9" text-anchor="middle" fill="#222">6</text>
<path d="M303.8 197.0h6.8M303.8 195.5v3M310.6 195.5v3" stroke="#000000" stroke-width="0.7" fill="none"/>
<path d="M305.1 195.3h4.2l-2.1 3.4z" fill="#000000" stroke="#000000" stroke-width="1.4" stroke-linejoin="round"/>
<path d="M309.5 207.3h6.8M309.5 205.8v3M316.3 205.8v3" stroke="#000000" stroke-width="0.7" fill="none"/>
<path d="M310.8 205.6h4.2l-2.1 3.4z" fill="#000000" stroke="#000000" stroke-width="1.4" stroke-linejoin="round"/>
<path d="M297.7 214.9h6.8M297.7 213.4v3M304.5 213.4v3" stroke="#000000" stroke-width="0.7" fill="none"/>
<path d="M299.0 213.2h4.2l-2.1 3.4z" fill="#000000" stroke="#000000" stroke-width="1.4" stroke-linejoin="round"/>
<path d="M304.0 219.3h6.8M304.0 217.8v3M310.8 217.8v3" stroke="#000000" stroke-width="0.7" fill="none"/>
<path d="M305.3 217.6h4.2l-2.1 3.4z" fill="#000000" stroke="#000000" stroke-width="1.4" stroke-linejoin="round"/>
<path d="M297.7 223.5h6.8M297.7 222.0v3M304.5 222.0v3" stroke="#000000" stroke-width="0.7" fill="none"/>
<path d="M299.0 221.8h4.2l-2.1 3.4z" fill="#000000" stroke="#000000" stroke-width="1.4" stroke-linejoin="round"/>
<path d="M297.7 226.0h6.8M297.7 224.5v3M304.5 224.5v3" stroke="#000000" stroke-width="0.7" fill="none"/>
<path d="M299.0 224.3h4.2l-2.1 3.4z" fill="#000000" stroke="#000000" stroke-width="1.4" stroke-linejoin="round"/>
<path d="M297.7 232.6h6.8M297.7 231.1v3M304.5 231.1v3" stroke="#000000" stroke-width="0.7" fill="none"/>
<path d="M299.0 230.9h4.2l-2.1 3.4z" fill="#000000" stroke="#000000" stroke-width="1.4" stroke-linejoin="round"/>
<path d="M297.7 238.6h6.8M297.7 237.1v3M304.5 237.1v3" stroke="#000000" stroke-width="0.7" fill="none"/>
<path d="M299.0 236.9h4.2l-2.1 3.4z" fill="#000000" stroke="#000000" stroke-width="1.4" stroke-linejoin="round"/>
<path d="M330.0 206.5h6.8M330.0 205.0v3M336.8 205.0v3" stroke="#000000" stroke-width="0.7" fill="none"/>
<path d="M331.3 204.8h4.2l-2.1 3.4z" fill="#000000" stroke="#000000" stroke-width="1.4" stroke-linejoin="round"/>
<path d="M330.0 209.0h6.8M330.0 207.5v3M336.8 207.5v3" stroke="#000000" stroke-width="0.7" fill="none"/>
<path d="M331.3 207.3h4.2l-2.1 3.4z" fill="#000000" stroke="#000000" stroke-width="1.4" stroke-linejoin="round"/>
<path d="M329.9 216.3h6.8M329.9 214.8v3M336.7 214.8v3" stroke="#000000" stroke-width="0.7" fill="none"/>
<path d="M331.2 214.6h4.2l-2.1 3.4z" fill="#000000" stroke="#000000" stroke-width="1.4" stroke-linejoin="round"/>
<path d="M322.8 235.6h6.8M322.8 234.1v3M329.6 234.1v3" stroke="#000000" stroke-width="0.7" fill="none"/>
<path d="M324.1 233.9h4.2l-2.1 3.4z" fill="#000000" stroke="#000000" stroke-width="1.4" stroke-linejoin="round"/>
<path d="M316.3 240.6h6.8M316.3 239.1v3M323.1 239.1v3" stroke="#000000" stroke-width="0.7" fill="none"/>
<path d="M317.6 238.9h4.2l-2.1 3.4z" fill="#000000" stroke="#000000" stroke-width="1.4" stroke-linejoin="round"/>
<path d="M310.2 247.7h6.8M310.2 246.2v3M317.0 246.2v3" stroke="#000000" stroke-width="0.7" fill="none"/>
<path d="M311.5 246.0h4.2l-2.1 3.4z" fill="#000000" stroke="#000000" stroke-width="1.4" stroke-linejoin="round"/>
<path d="M315.9 200.2h6.8M315.9 198.7v3M322.7 198.7v3" stroke="#bf00bf" stroke-width="0.7" fill="none"/>
<path d="M317.2 198.5h4.2l-2.1 3.4z" fill="#bf00bf" stroke="#bf00bf" stroke-width="1.4" stroke-linejoin="round"/>
<path d="M310.0 210.2h6.8M310.0 208.7v3M316.8 208.7v3" stroke="#bf00bf" stroke-width="0.7" fill="none"/>
<path d="M311.3 208.5h4.2l-2.1 3.4z" fill="#bf00bf" stroke="#bf00bf" stroke-width="1.4" stroke-linejoin="round"/>
<path d="M304.2 227.6h6.8M304.2 226.1v3M311.0 226.1v3" stroke="#bf00bf" stroke-width="0.7" fill="none"/>
<path d="M305.5 225.9h4.2l-2.1 3.4z" fill="#bf00bf" stroke="#bf00bf" stroke-width="1.4" stroke-linejoin="round"/>
<path d="M304.2 236.6h6.8M304.2 235.1v3M311.0 235.1v3" stroke="#bf00bf" stroke-width="0.7" fill="none"/>
<path d="M305.5 234.9h4.2l-2.1 3.4z" fill="#bf00bf" stroke="#bf00bf" stroke-width="1.4" stroke-linejoin="round"/>
<text transform="translate(282.6,286.7) rotate(-90)" font-size="9.5" text-anchor="end" fill="#222">0.49</text>
<text transform="translate(297.4,287.8) rotate(-90)" font-size="9.5" text-anchor="end" fill="#222">0.494</text>
<text transform="translate(311.4,287.8) rotate(-90)" font-size="9.5" text-anchor="end" fill="#222">0.495</text>
<text transform="translate(325.9,285.6) rotate(-90)" font-size="9.5" text-anchor="end" fill="#222">0.5</text>
<text transform="translate(365.7,276.7) rotate(-90)" font-size="9.5" text-anchor="end" fill="#222">0.53</text>
<text transform="translate(391.4,274.0) rotate(-90)" font-size="9.5" text-anchor="end" fill="#222">0.55</text>
<text transform="translate(443.8,263.0) rotate(-90)" font-size="9.5" text-anchor="end" fill="#222">0.58</text>
<text transform="translate(481.1,256.0) rotate(-90)" font-size="9.5" text-anchor="end" fill="#222">0.6</text>
<text transform="translate(535.1,250.4) rotate(-90)" font-size="9.5" text-anchor="end" fill="#222">0.65</text>
<text transform="translate(544.5,250.0) rotate(-90)" font-size="9.5" text-anchor="end" fill="#222">0.7</text>
<text transform="translate(553.5,249.0) rotate(-90)" font-size="9.5" text-anchor="end" fill="#222">0.75</text>
<text transform="translate(564.5,248.0) rotate(-90)" font-size="9.5" text-anchor="end" fill="#222">0.85</text>
<rect x="47.3" y="5.6" width="580.8" height="315.9" fill="none" stroke="#000" stroke-width="1.4"/>
<path d="M60.8 321.5v-4M60.8 5.6v4M78.7 321.5v-4M78.7 5.6v4M96.7 321.5v-7.3M96.7 5.6v7.3M114.7 321.5v-4M114.7 5.6v4M132.6 321.5v-4M132.6 5.6v4M150.6 321.5v-4M150.6 5.6v4M168.6 321.5v-7.3M168.6 5.6v7.3M186.6 321.5v-4M186.6 5.6v4M204.5 321.5v-4M204.5 5.6v4M222.5 321.5v-4M222.5 5.6v4M240.5 321.5v-7.3M240.5 5.6v7.3M258.5 321.5v-4M258.5 5.6v4M276.4 321.5v-4M276.4 5.6v4M294.4 321.5v-4M294.4 5.6v4M312.4 321.5v-7.3M312.4 5.6v7.3M330.4 321.5v-4M330.4 5.6v4M348.4 321.5v-4M348.4 5.6v4M366.3 321.5v-4M366.3 5.6v4M384.3 321.5v-7.3M384.3 5.6v7.3M402.3 321.5v-4M402.3 5.6v4M420.3 321.5v-4M420.3 5.6v4M438.2 321.5v-4M438.2 5.6v4M456.2 321.5v-7.3M456.2 5.6v7.3M474.2 321.5v-4M474.2 5.6v4M492.2 321.5v-4M492.2 5.6v4M510.1 321.5v-4M510.1 5.6v4M528.1 321.5v-7.3M528.1 5.6v7.3M546.1 321.5v-4M546.1 5.6v4M564.0 321.5v-4M564.0 5.6v4M582.0 321.5v-4M582.0 5.6v4M600.0 321.5v-7.3M600.0 5.6v7.3M618.0 321.5v-4M618.0 5.6v4M47.3 311.7h7.3M628.1 311.7h-7.3M47.3 301.5h4M628.1 301.5h-4M47.3 291.3h4M628.1 291.3h-4M47.3 281.1h4M628.1 281.1h-4M47.3 270.9h4M628.1 270.9h-4M47.3 260.8h7.3M628.1 260.8h-7.3M47.3 250.6h4M628.1 250.6h-4M47.3 240.4h4M628.1 240.4h-4M47.3 230.2h4M628.1 230.2h-4M47.3 220.0h4M628.1 220.0h-4M47.3 209.8h7.3M628.1 209.8h-7.3M47.3 199.6h4M628.1 199.6h-4M47.3 189.4h4M628.1 189.4h-4M47.3 179.2h4M628.1 179.2h-4M47.3 169.0h4M628.1 169.0h-4M47.3 158.8h7.3M628.1 158.8h-7.3M47.3 148.7h4M628.1 148.7h-4M47.3 138.5h4M628.1 138.5h-4M47.3 128.3h4M628.1 128.3h-4M47.3 118.1h4M628.1 118.1h-4M47.3 107.9h7.3M628.1 107.9h-7.3M47.3 97.7h4M628.1 97.7h-4M47.3 87.5h4M628.1 87.5h-4M47.3 77.3h4M628.1 77.3h-4M47.3 67.1h4M628.1 67.1h-4M47.3 56.9h7.3M628.1 56.9h-7.3M47.3 46.8h4M628.1 46.8h-4M47.3 36.6h4M628.1 36.6h-4M47.3 26.4h4M628.1 26.4h-4M47.3 16.2h4M628.1 16.2h-4" stroke="#000" stroke-width="1.3" fill="none"/>
<g font-size="14" fill="#222"><text x="96.7" y="334.5" text-anchor="middle">5.0</text><text x="168.6" y="334.5" text-anchor="middle">4.8</text><text x="240.5" y="334.5" text-anchor="middle">4.6</text><text x="312.4" y="334.5" text-anchor="middle">4.4</text><text x="384.3" y="334.5" text-anchor="middle">4.2</text><text x="456.2" y="334.5" text-anchor="middle">4.0</text><text x="528.1" y="334.5" text-anchor="middle">3.8</text><text x="600.0" y="334.5" text-anchor="middle">3.6</text><text x="43" y="316.5" text-anchor="end">1.0</text><text x="43" y="265.6" text-anchor="end">1.5</text><text x="43" y="214.6" text-anchor="end">2.0</text><text x="43" y="163.6" text-anchor="end">2.5</text><text x="43" y="112.7" text-anchor="end">3.0</text><text x="43" y="61.7" text-anchor="end">3.5</text><text x="43" y="10.8" text-anchor="end">4.0</text></g>
<text x="308" y="354.3" font-size="20" fill="#222">Log T<tspan font-size="12.5" dy="3" dx="-1.5">eff</tspan></text>
<g transform="translate(15.3,164) rotate(-90)" fill="#222"><text x="-41.80" y="0" font-size="19.5">Log(L/L</text><circle cx="30.35" cy="-0.9" r="4.2" fill="none" stroke="#222" stroke-width="0.85"/><circle cx="30.35" cy="-0.9" r="0.95"/><text x="34.95" y="0" font-size="19.5">)</text></g>
</svg>
</body></html>
